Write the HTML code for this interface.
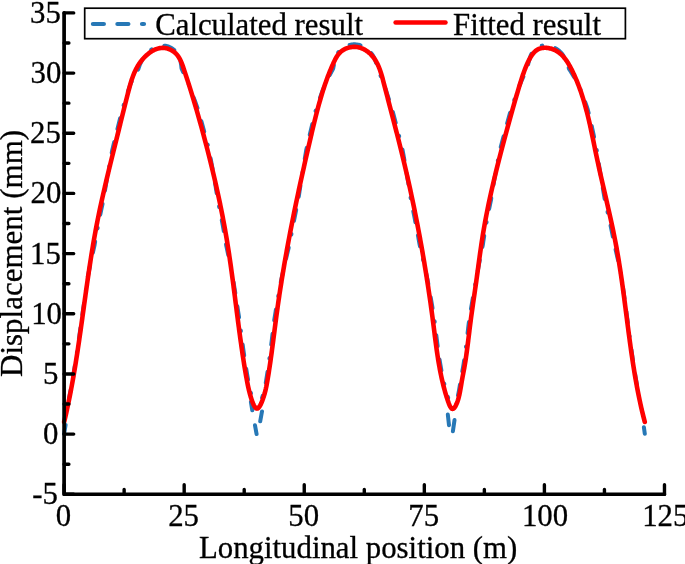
<!DOCTYPE html>
<html><head><meta charset="utf-8"><style>
html,body{margin:0;padding:0;background:#fff;}
svg{display:block;will-change:transform;}
text{font-family:"Liberation Serif",serif;font-size:30.8px;fill:#000;stroke:#000;stroke-width:0.3px;}
</style></head><body>
<svg width="685" height="564" viewBox="0 0 685 564">
<rect width="685" height="564" fill="#fff"/>
<path d="M69.10,397.70 L69.25,396.94 L69.40,396.19 L69.55,395.43 L69.70,394.67 L69.85,393.91 L70.00,393.16 L70.15,392.40 L70.29,391.64 L70.44,390.88 L70.58,390.12 L70.73,389.36 L70.87,388.60 L71.01,387.84 L71.15,387.09 L71.29,386.33 L71.43,385.57 L71.57,384.81 L71.71,384.05 L71.84,383.29 L71.98,382.52 L72.11,381.76 L72.25,381.00 L72.38,380.24 L72.52,379.48 L72.65,378.72 L72.79,377.96 L72.92,377.20 L73.05,376.44 L73.18,375.67 L73.31,374.91 L73.44,374.15 L73.57,373.39 L73.70,372.63 L73.83,371.86 L73.95,371.10 L74.08,370.34 L74.21,369.58 L74.33,368.81 L74.46,368.05 L74.58,367.29 L74.71,366.52 L74.83,365.76 L74.95,365.00 L75.08,364.23 L75.20,363.47 L75.32,362.71 L75.44,361.94 L75.56,361.18 L75.68,360.41 L75.80,359.65 L75.92,358.88 L76.04,358.12 L76.16,357.36 L76.28,356.59 L76.40,355.83 L76.51,355.06 L76.63,354.30 L76.75,353.53 L76.86,352.77 L76.98,352.00 L77.09,351.24 L77.21,350.47 L77.32,349.70 L77.44,348.94 L77.55,348.17 L77.67,347.41 L77.78,346.64 L77.89,345.88 L78.00,345.11 L78.12,344.34 L78.23,343.58 L78.34,342.81 L78.45,342.04 L78.56,341.28 L78.67,340.51 L78.78,339.75 L78.89,338.98 L79.00,338.21 L79.11,337.45 L79.22,336.68 L79.33,335.91 L79.44,335.14 L79.55,334.38 L79.66,333.61 L79.77,332.84 L79.87,332.08 L79.98,331.31 L80.09,330.54 L80.20,329.77 L80.30,329.01 L80.41,328.24 L80.52,327.47 L80.62,326.71 L80.73,325.94 L80.84,325.17 L80.94,324.40 L81.05,323.63 L81.16,322.87 L81.26,322.10 L81.37,321.33 L81.47,320.56 L81.58,319.80 L81.69,319.03 L81.81,318.26 L81.92,317.50 L82.03,316.73 L82.14,315.96 L82.26,315.20 L82.37,314.43 L82.48,313.66 L82.59,312.89 L82.71,312.13 L82.82,311.36 L82.93,310.59 L83.04,309.83 L83.16,309.06 L83.27,308.29 L83.38,307.53 L83.49,306.76 L83.60,305.99 L83.72,305.22 L83.83,304.46 L83.94,303.69 L84.05,302.92 L84.17,302.16 L84.28,301.39 L84.39,300.62 L84.50,299.86 L84.62,299.09 L84.73,298.32 L84.84,297.56 L84.96,296.79 L85.07,296.02 L85.18,295.25 L85.30,294.49 L85.41,293.72 L85.52,292.95 L85.64,292.19 L85.75,291.42 L85.87,290.65 L85.98,289.89 L86.09,289.12 L86.21,288.35 L86.32,287.59 L86.44,286.82 L86.55,286.05 L86.67,285.29 L86.78,284.52 L86.90,283.76 L87.02,282.99 L87.13,282.22 L87.25,281.46 L87.36,280.69 L87.14,279.87 L87.29,279.11 L87.45,278.35 L87.60,277.59 L87.76,276.83 L87.91,276.07 L88.07,275.31 L88.22,274.55 L88.38,273.79 L88.54,273.03 L88.69,272.27 L88.85,271.51 L89.01,270.75 L89.16,269.99 L89.32,269.23 L89.48,268.47 L89.64,267.71 L89.80,266.95 L89.96,266.19 L90.12,265.44 L90.28,264.68 L90.44,263.92 L90.60,263.16 L90.76,262.40 L90.92,261.64 L91.08,260.89 L91.25,260.13 L91.41,259.37 L91.57,258.61 L91.74,257.85 L91.90,257.10 L92.07,256.34 L92.23,255.58 L92.40,254.83 L92.56,254.07 L92.73,253.31 L92.90,252.56 L93.06,251.80 L93.23,251.04 L93.40,250.29 L93.57,249.53 L93.74,248.78 L93.91,248.02 L94.08,247.27 L94.25,246.51 L94.42,245.76 L94.58,245.00 L94.71,244.24 L94.84,243.48 L94.97,242.71 L95.10,241.95 L95.23,241.19 L95.36,240.43 L95.50,239.67 L95.63,238.91 L95.77,238.15 L95.90,237.39 L96.04,236.63 L96.17,235.87 L96.31,235.11 L96.45,234.35 L96.58,233.59 L96.72,232.83 L96.86,232.07 L97.00,231.31 L97.14,230.55 L97.28,229.79 L97.43,229.03 L97.57,228.28 L97.71,227.52 L97.86,226.76 L98.00,226.00 L98.15,225.24 L98.30,224.49 L98.44,223.73 L98.59,222.97 L98.74,222.21 L98.89,221.46 L99.04,220.70 L99.19,219.94 L99.34,219.19 L99.49,218.43 L99.65,217.67 L99.80,216.92 L99.95,216.16 L100.11,215.41 L100.26,214.65 L100.42,213.89 L100.58,213.14 L100.74,212.38 L100.89,211.63 L101.05,210.87 L101.21,210.12 L101.37,209.36 L101.53,208.61 L101.69,207.85 L101.86,207.10 L102.02,206.34 L102.18,205.59 L102.35,204.83 L102.51,204.08 L102.68,203.33 L102.84,202.57 L103.01,201.82 L103.17,201.06 L103.34,200.31 L103.46,199.54 L103.59,198.78 L103.71,198.02 L103.84,197.25 L103.96,196.49 L104.09,195.73 L104.21,194.96 L104.34,194.20 L104.47,193.44 L104.60,192.67 L104.72,191.91 L104.85,191.14 L104.98,190.38 L105.11,189.62 L105.24,188.85 L105.37,188.09 L105.50,187.33 L105.64,186.56 L105.77,185.80 L105.90,185.04 L106.03,184.27 L106.17,183.51 L106.30,182.75 L106.43,181.98 L106.57,181.22 L106.70,180.45 L106.84,179.69 L106.97,178.93 L107.11,178.16 L107.24,177.40 L107.38,176.64 L107.52,175.87 L107.65,175.11 L107.79,174.34 L107.93,173.58 L108.07,172.82 L108.20,172.05 L108.34,171.29 L108.48,170.53 L108.62,169.76 L108.76,169.00 L108.90,168.23 L109.04,167.47 L109.18,166.71 L109.32,165.94 L109.46,165.18 L109.60,164.41 L109.74,163.65 L109.88,162.89 L110.02,162.12 L110.16,161.36 L110.30,160.59 L110.45,159.83 L110.59,159.06 L110.73,158.30 L110.87,157.53 L111.01,156.77 L111.15,156.01 L111.30,155.24 L111.44,154.48 L111.58,153.71 L111.72,152.95 L111.87,152.18 L112.01,151.42 L112.15,150.65 L112.30,149.89 L112.47,149.13 L112.66,148.38 L112.84,147.62 L113.03,146.87 L113.22,146.11 L113.40,145.36 L113.59,144.60 L113.78,143.85 L113.96,143.10 L114.15,142.34 L114.34,141.59 L114.53,140.83 L114.71,140.08 L114.90,139.32 L115.09,138.57 L115.27,137.81 L115.46,137.06 L115.65,136.30 L115.83,135.55 L116.02,134.79 L116.21,134.04 L116.39,133.28 L116.58,132.52 L116.77,131.77 L116.95,131.01 L117.14,130.26 L117.33,129.50 L117.51,128.74 L117.70,127.99 L117.89,127.23 L118.07,126.48 L118.26,125.72 L118.44,124.96 L118.63,124.21 L118.82,123.45 L119.00,122.70 L119.19,121.94 L119.38,121.19 L119.56,120.43 L119.75,119.67 L119.94,118.92 L120.12,118.16 L120.31,117.41 L120.50,116.65 L120.68,115.90 L120.87,115.14 L121.06,114.39 L121.24,113.64 L121.43,112.88 L121.62,112.13 L121.81,111.38 L121.99,110.62 L122.18,109.87 L122.40,109.12 L122.63,108.38 L122.86,107.64 L123.09,106.90 L123.33,106.16 L123.56,105.42 L123.79,104.68 L124.02,103.94 L124.26,103.20 L124.49,102.46 L124.72,101.73 L124.95,100.99 L125.19,100.25 L125.42,99.51 L125.65,98.78 L125.89,98.04 L126.12,97.31 L126.36,96.57 L126.59,95.84 L126.82,95.10 L127.06,94.37 L127.29,93.64 L127.53,92.90 L127.76,92.17 L128.00,91.44 L128.23,90.71 L128.47,89.98 L128.71,89.25 L128.95,88.52 L129.19,87.80 L129.43,87.07 L129.67,86.35 L129.92,85.62 L130.17,84.90 L130.46,84.20 L130.76,83.49 L131.06,82.79 L131.36,82.09 L131.66,81.39 L131.97,80.70 L132.28,80.00 L132.60,79.32 L132.92,78.63 L133.25,77.95 L133.58,77.28 L133.91,76.61 L134.25,75.94 L134.60,75.28 L134.95,74.62 L135.31,73.96 L135.68,73.31 L136.05,72.67 L136.43,72.03 L136.81,71.40 L137.20,70.77 L137.60,70.15 L138.01,69.53 L138.41,68.92 L138.63,68.20 L138.86,67.48 L139.11,66.77 L139.37,66.05 L139.64,65.34 L139.92,64.63 L140.22,63.91 L140.54,63.20 L140.87,62.49 L141.22,61.79 L141.58,61.08 L141.96,60.37 L142.36,59.67 L142.77,58.97 L143.20,58.27 L143.65,57.58 L144.12,56.89 L144.60,56.21 L145.10,55.54 L145.62,54.88 L146.16,54.23 L146.73,53.60 L147.31,52.99 L147.91,52.40 L148.52,51.82 L149.15,51.25 L149.80,50.71 L150.46,50.18 L151.14,49.67 L151.83,49.19 L152.54,48.72 L153.26,48.29 L153.99,47.88 L154.74,47.49 L155.51,47.14 L156.29,46.81 L157.08,46.52 L157.89,46.27 L158.70,46.05 L159.53,45.87 L160.37,45.73 L161.22,45.63 L162.07,45.57 L162.93,45.56 L163.79,45.59 L164.65,45.67 L165.51,45.80 L166.36,45.98 L167.21,46.19 L168.03,46.45 L168.85,46.75 L169.65,47.09 L170.43,47.46 L171.19,47.87 L171.93,48.31 L172.65,48.78 L173.35,49.28 L174.02,49.81 L174.66,50.37 L175.27,50.95 L175.85,51.56 L176.40,52.18 L176.91,52.83 L177.39,53.49 L177.84,54.17 L178.23,54.87 L178.59,55.59 L178.92,56.32 L179.22,57.05 L179.50,57.79 L179.75,58.54 L179.98,59.30 L180.18,60.06 L180.37,60.83 L180.54,61.60 L180.70,62.38 L180.84,63.16 L180.97,63.95 L181.09,64.74 L181.20,65.53 L181.30,66.33 L181.40,67.13 L181.49,67.94 L181.61,68.73 L181.95,69.46 L182.28,70.18 L182.62,70.91 L182.96,71.64 L183.29,72.37 L183.62,73.09 L183.96,73.82 L184.29,74.55 L184.62,75.27 L184.95,76.00 L185.28,76.72 L185.61,77.45 L185.94,78.17 L186.27,78.89 L186.59,79.62 L186.92,80.34 L187.25,81.06 L187.57,81.79 L187.89,82.51 L188.22,83.23 L188.54,83.96 L188.86,84.68 L189.16,85.41 L189.44,86.14 L189.72,86.88 L190.00,87.61 L190.27,88.34 L190.55,89.08 L190.82,89.81 L191.10,90.54 L191.37,91.28 L191.65,92.01 L191.92,92.74 L192.19,93.47 L192.46,94.20 L192.73,94.94 L193.00,95.67 L193.27,96.40 L193.54,97.13 L193.81,97.86 L194.08,98.59 L194.34,99.32 L194.61,100.05 L194.88,100.78 L195.14,101.51 L195.41,102.24 L195.67,102.97 L195.93,103.70 L196.20,104.43 L196.46,105.16 L196.72,105.89 L196.98,106.62 L197.24,107.35 L197.50,108.08 L197.76,108.81 L198.02,109.54 L198.24,110.28 L198.45,111.02 L198.66,111.76 L198.88,112.50 L199.09,113.24 L199.30,113.98 L199.52,114.73 L199.73,115.47 L199.94,116.21 L200.15,116.95 L200.36,117.69 L200.57,118.43 L200.78,119.17 L200.98,119.91 L201.19,120.65 L201.40,121.39 L201.61,122.13 L201.81,122.88 L202.02,123.62 L202.22,124.36 L202.43,125.10 L202.63,125.84 L202.84,126.58 L203.04,127.32 L203.24,128.06 L203.45,128.80 L203.65,129.55 L203.85,130.29 L204.05,131.03 L204.25,131.77 L204.45,132.51 L204.65,133.26 L204.85,134.00 L205.05,134.74 L205.25,135.48 L205.45,136.23 L205.64,136.97 L205.84,137.71 L206.04,138.45 L206.24,139.20 L206.43,139.94 L206.63,140.69 L206.82,141.43 L207.02,142.17 L207.21,142.92 L207.41,143.66 L207.60,144.41 L207.79,145.15 L207.99,145.90 L208.18,146.65 L208.37,147.39 L208.57,148.14 L208.76,148.88 L208.95,149.63 L209.10,150.39 L209.25,151.15 L209.39,151.91 L209.54,152.67 L209.69,153.43 L209.83,154.19 L209.98,154.95 L210.12,155.71 L210.27,156.47 L210.41,157.23 L210.56,157.99 L210.70,158.75 L210.84,159.51 L210.99,160.27 L211.13,161.03 L211.27,161.79 L211.41,162.56 L211.55,163.32 L211.69,164.08 L211.83,164.84 L211.97,165.61 L212.11,166.37 L212.25,167.13 L212.39,167.90 L212.53,168.66 L212.67,169.42 L212.80,170.19 L212.94,170.95 L213.08,171.72 L213.21,172.48 L213.35,173.24 L213.48,174.01 L213.62,174.77 L213.75,175.54 L213.88,176.30 L214.02,177.07 L214.15,177.84 L214.28,178.60 L214.41,179.37 L214.54,180.13 L214.67,180.90 L214.80,181.66 L214.93,182.43 L215.06,183.20 L215.19,183.96 L215.32,184.73 L215.44,185.50 L215.57,186.26 L215.70,187.03 L215.82,187.80 L215.95,188.57 L216.07,189.33 L216.20,190.10 L216.32,190.87 L216.44,191.64 L216.56,192.40 L216.69,193.17 L216.81,193.94 L216.93,194.71 L217.05,195.48 L217.17,196.24 L217.29,197.01 L217.41,197.78 L217.52,198.55 L217.64,199.32 L217.76,200.09 L217.90,200.85 L218.06,201.61 L218.22,202.37 L218.38,203.13 L218.54,203.88 L218.70,204.64 L218.86,205.40 L219.01,206.16 L219.17,206.92 L219.32,207.68 L219.48,208.44 L219.63,209.20 L219.79,209.96 L219.94,210.73 L220.09,211.49 L220.24,212.25 L220.40,213.01 L220.55,213.77 L220.70,214.53 L220.84,215.29 L220.99,216.05 L221.14,216.81 L221.29,217.57 L221.44,218.33 L221.58,219.10 L221.73,219.86 L221.87,220.62 L222.02,221.38 L222.16,222.14 L222.30,222.90 L222.44,223.66 L222.58,224.43 L222.73,225.19 L222.87,225.95 L223.00,226.71 L223.14,227.47 L223.28,228.24 L223.42,229.00 L223.55,229.76 L223.69,230.52 L223.83,231.28 L223.96,232.05 L224.09,232.81 L224.23,233.57 L224.36,234.33 L224.49,235.09 L224.62,235.86 L224.75,236.62 L224.88,237.38 L225.01,238.14 L225.14,238.90 L225.26,239.67 L225.39,240.43 L225.52,241.19 L225.64,241.95 L225.77,242.72 L225.89,243.48 L226.01,244.24 L226.14,245.00 L226.29,245.76 L226.45,246.52 L226.62,247.27 L226.78,248.03 L226.94,248.78 L227.10,249.54 L227.26,250.30 L227.42,251.05 L227.59,251.81 L227.74,252.57 L227.90,253.32 L228.06,254.08 L228.22,254.84 L228.38,255.59 L228.54,256.35 L228.69,257.11 L228.85,257.87 L229.00,258.62 L229.16,259.38 L229.31,260.14 L229.47,260.90 L229.62,261.65 L229.78,262.41 L229.93,263.17 L230.08,263.93 L230.23,264.69 L230.38,265.44 L230.54,266.20 L230.69,266.96 L230.84,267.72 L230.99,268.48 L231.14,269.24 L231.29,270.00 L231.43,270.75 L231.58,271.51 L231.73,272.27 L231.88,273.03 L232.03,273.79 L232.17,274.55 L232.32,275.31 L232.47,276.07 L232.61,276.83 L232.76,277.59 L232.91,278.35 L233.05,279.11 L233.20,279.87 L233.32,280.63 L233.44,281.39 L233.57,282.16 L233.69,282.92 L233.81,283.68 L233.93,284.45 L234.05,285.21 L234.17,285.97 L234.29,286.74 L234.41,287.50 L234.54,288.26 L234.66,289.03 L234.78,289.79 L234.90,290.56 L235.02,291.32 L235.14,292.08 L235.26,292.85 L235.37,293.61 L235.49,294.38 L235.61,295.14 L235.73,295.91 L235.85,296.67 L235.97,297.43 L236.09,298.20 L236.21,298.96 L236.33,299.73 L236.45,300.49 L236.57,301.26 L236.68,302.02 L236.80,302.79 L236.92,303.55 L237.04,304.32 L237.16,305.08 L237.28,305.85 L237.40,306.61 L237.52,307.38 L237.64,308.14 L237.75,308.91 L237.87,309.68 L237.99,310.44 L238.11,311.21 L238.23,311.97 L238.35,312.74 L238.47,313.51 L238.59,314.27 L238.71,315.04 L238.83,315.80 L238.95,316.57 L239.07,317.34 L239.19,318.10 L239.31,318.87 L239.43,319.64 L239.53,320.41 L239.63,321.18 L239.72,321.95 L239.82,322.72 L239.91,323.49 L240.01,324.26 L240.11,325.03 L240.20,325.80 L240.30,326.57 L240.40,327.34 L240.50,328.11 L240.59,328.88 L240.69,329.65 L240.79,330.42 L240.89,331.19 L240.99,331.97 L241.09,332.74 L241.19,333.51 L241.29,334.28 L241.39,335.05 L241.49,335.82 L241.59,336.60 L241.69,337.37 L241.79,338.14 L241.89,338.91 L242.00,339.68 L242.10,340.46 L242.20,341.23 L242.31,342.00 L242.41,342.77 L242.52,343.55 L242.62,344.32 L242.73,345.09 L242.83,345.87 L242.94,346.64 L243.04,347.41 L243.15,348.19 L243.26,348.96 L243.37,349.73 L243.48,350.51 L243.59,351.28 L243.69,352.05 L243.80,352.82 L243.92,353.60 L244.03,354.37 L244.14,355.14 L244.25,355.91 L244.36,356.68 L244.48,357.45 L244.59,358.22 L244.70,358.98 L244.82,359.75 L244.93,360.51 L245.05,361.28 L245.16,362.04 L245.28,362.81 L245.40,363.57 L245.51,364.33 L245.63,365.09 L245.75,365.84 L245.87,366.60 L245.99,367.35 L246.11,368.11 L246.23,368.86 L246.35,369.61 L246.47,370.36 L246.59,371.11 L246.72,371.85 L246.84,372.59 L246.96,373.33 L247.09,374.07 L247.21,374.81 L247.34,375.55 L247.46,376.28 L247.59,377.01 L247.72,377.74 L247.85,378.47 L247.97,379.19 L248.10,379.91 L248.23,380.63 L248.36,381.35 L248.50,382.07 L248.63,382.79 L248.77,383.52 L248.91,384.24 L249.06,384.98 L249.21,385.72 L249.36,386.47 L249.53,387.24 L249.69,388.01 L249.87,388.80 L250.05,389.60 L250.25,390.42 L250.45,391.25 L250.66,392.08 L250.88,392.93 L251.11,393.79 L251.35,394.65 L251.60,395.52 L251.86,396.39 L252.12,397.26" fill="none" stroke="#2778b6" stroke-width="4" stroke-linecap="round" stroke-linejoin="round" stroke-dasharray="11 13.5 11 13.5 0.5 13.5" stroke-dashoffset="3.21"/><path d="M262.10,397.69 L262.37,396.89 L262.63,396.09 L262.88,395.29 L263.12,394.50 L263.35,393.71 L263.57,392.93 L263.78,392.15 L263.98,391.37 L264.18,390.60 L264.36,389.83 L264.54,389.06 L264.71,388.30 L264.87,387.53 L265.02,386.77 L265.18,386.01 L265.32,385.25 L265.46,384.49 L265.60,383.73 L265.74,382.97 L265.87,382.21 L266.00,381.46 L266.12,380.70 L266.25,379.94 L266.37,379.18 L266.50,378.42 L266.62,377.66 L266.74,376.90 L266.86,376.14 L266.98,375.38 L267.10,374.61 L267.22,373.85 L267.34,373.09 L267.45,372.33 L267.57,371.57 L267.68,370.80 L267.80,370.04 L267.91,369.28 L268.02,368.51 L268.14,367.75 L268.25,366.99 L268.36,366.22 L268.47,365.46 L268.57,364.69 L268.68,363.93 L268.79,363.16 L268.90,362.40 L269.00,361.63 L269.11,360.87 L269.21,360.10 L269.32,359.34 L269.42,358.57 L269.52,357.81 L269.62,357.04 L269.73,356.27 L269.83,355.51 L269.93,354.74 L270.03,353.97 L270.13,353.20 L270.23,352.44 L270.33,351.67 L270.43,350.90 L270.53,350.13 L270.62,349.37 L270.72,348.60 L270.82,347.83 L270.92,347.06 L271.01,346.29 L271.11,345.53 L271.20,344.76 L271.30,343.99 L271.40,343.22 L271.49,342.45 L271.59,341.68 L271.68,340.91 L271.78,340.14 L271.87,339.38 L271.97,338.61 L272.06,337.84 L272.16,337.07 L272.25,336.30 L272.34,335.53 L272.44,334.76 L272.53,333.99 L272.63,333.22 L272.72,332.45 L272.81,331.68 L272.91,330.91 L273.00,330.14 L273.10,329.37 L273.19,328.60 L273.29,327.83 L273.38,327.06 L273.48,326.29 L273.57,325.52 L273.67,324.75 L273.76,323.98 L273.86,323.21 L273.95,322.44 L274.05,321.67 L274.14,320.90 L274.24,320.13 L274.35,319.36 L274.47,318.60 L274.60,317.83 L274.72,317.06 L274.84,316.30 L274.97,315.53 L275.09,314.77 L275.22,314.00 L275.34,313.23 L275.47,312.47 L275.59,311.70 L275.72,310.94 L275.85,310.17 L275.97,309.40 L276.10,308.64 L276.23,307.87 L276.36,307.11 L276.49,306.34 L276.62,305.58 L276.75,304.82 L276.88,304.05 L277.01,303.29 L277.14,302.52 L277.27,301.76 L277.40,300.99 L277.53,300.23 L277.67,299.47 L277.80,298.70 L277.94,297.94 L278.07,297.18 L278.20,296.41 L278.34,295.65 L278.48,294.89 L278.61,294.12 L278.75,293.36 L278.88,292.60 L279.02,291.84 L279.16,291.07 L279.30,290.31 L279.44,289.55 L279.58,288.79 L279.72,288.03 L279.86,287.27 L280.00,286.50 L280.14,285.74 L280.28,284.98 L280.42,284.22 L280.56,283.46 L280.70,282.70 L280.85,281.94 L280.99,281.18 L281.13,280.41 L281.29,279.66 L281.45,278.90 L281.62,278.14 L281.79,277.39 L281.96,276.63 L282.12,275.87 L282.29,275.12 L282.46,274.36 L282.63,273.60 L282.80,272.85 L282.97,272.09 L283.14,271.34 L283.31,270.58 L283.48,269.83 L283.66,269.07 L283.83,268.32 L284.00,267.56 L284.17,266.81 L284.35,266.05 L284.52,265.30 L284.70,264.54 L284.87,263.79 L285.04,263.03 L285.22,262.28 L285.40,261.53 L285.57,260.77 L285.75,260.02 L285.92,259.27 L286.10,258.51 L286.28,257.76 L286.46,257.01 L286.64,256.25 L286.81,255.50 L286.99,254.75 L287.17,253.99 L287.35,253.24 L287.53,252.49 L287.71,251.74 L287.89,250.98 L288.07,250.23 L288.25,249.48 L288.44,248.73 L288.62,247.97 L288.80,247.22 L288.98,246.47 L289.17,245.72 L289.33,244.96 L289.47,244.20 L289.61,243.45 L289.76,242.69 L289.90,241.93 L290.04,241.17 L290.18,240.41 L290.33,239.65 L290.47,238.89 L290.61,238.13 L290.76,237.37 L290.90,236.61 L291.05,235.85 L291.19,235.10 L291.34,234.34 L291.48,233.58 L291.63,232.82 L291.78,232.06 L291.92,231.30 L292.07,230.54 L292.22,229.79 L292.36,229.03 L292.51,228.27 L292.66,227.51 L292.81,226.75 L292.96,225.99 L293.11,225.24 L293.26,224.48 L293.41,223.72 L293.56,222.96 L293.71,222.20 L293.86,221.45 L294.01,220.69 L294.16,219.93 L294.31,219.17 L294.47,218.42 L294.62,217.66 L294.77,216.90 L294.92,216.14 L295.08,215.39 L295.23,214.63 L295.39,213.87 L295.54,213.11 L295.69,212.36 L295.85,211.60 L296.00,210.84 L296.16,210.08 L296.31,209.33 L296.47,208.57 L296.63,207.81 L296.78,207.05 L296.94,206.30 L297.10,205.54 L297.25,204.78 L297.41,204.03 L297.57,203.27 L297.73,202.51 L297.89,201.76 L298.05,201.00 L298.20,200.24 L298.32,199.47 L298.43,198.71 L298.55,197.94 L298.66,197.18 L298.78,196.41 L298.89,195.64 L299.01,194.88 L299.13,194.11 L299.24,193.34 L299.36,192.58 L299.48,191.81 L299.60,191.05 L299.71,190.28 L299.83,189.51 L299.95,188.75 L300.07,187.98 L300.19,187.21 L300.31,186.45 L300.43,185.68 L300.55,184.92 L300.67,184.15 L300.79,183.38 L300.91,182.62 L301.03,181.85 L301.15,181.08 L301.27,180.32 L301.39,179.55 L301.52,178.79 L301.64,178.02 L301.76,177.25 L301.88,176.49 L302.00,175.72 L302.13,174.95 L302.25,174.19 L302.37,173.42 L302.50,172.65 L302.62,171.89 L302.75,171.12 L302.87,170.35 L303.00,169.59 L303.12,168.82 L303.25,168.05 L303.37,167.29 L303.50,166.52 L303.62,165.75 L303.75,164.99 L303.87,164.22 L304.00,163.46 L304.13,162.69 L304.25,161.92 L304.38,161.16 L304.51,160.39 L304.63,159.62 L304.76,158.85 L304.89,158.09 L305.02,157.32 L305.15,156.55 L305.27,155.79 L305.40,155.02 L305.53,154.25 L305.66,153.49 L305.79,152.72 L305.92,151.95 L306.05,151.19 L306.18,150.42 L306.31,149.65 L306.48,148.90 L306.66,148.14 L306.83,147.38 L307.01,146.63 L307.18,145.87 L307.36,145.11 L307.53,144.36 L307.71,143.60 L307.88,142.84 L308.06,142.08 L308.24,141.33 L308.41,140.57 L308.59,139.81 L308.77,139.06 L308.94,138.30 L309.12,137.54 L309.30,136.79 L309.47,136.03 L309.65,135.27 L309.83,134.52 L310.01,133.76 L310.18,133.00 L310.36,132.24 L310.54,131.49 L310.72,130.73 L310.90,129.97 L311.08,129.22 L311.26,128.46 L311.44,127.70 L311.62,126.95 L311.80,126.19 L311.98,125.43 L312.16,124.68 L312.35,123.92 L312.53,123.16 L312.71,122.41 L312.90,121.65 L313.08,120.89 L313.27,120.14 L313.46,119.38 L313.64,118.63 L313.83,117.87 L314.02,117.12 L314.21,116.36 L314.40,115.61 L314.59,114.86 L314.78,114.10 L314.98,113.35 L315.17,112.60 L315.36,111.84 L315.56,111.09 L315.76,110.34 L315.96,109.59 L316.20,108.85 L316.44,108.11 L316.69,107.37 L316.93,106.63 L317.18,105.89 L317.43,105.16 L317.67,104.42 L317.92,103.68 L318.17,102.95 L318.43,102.21 L318.68,101.48 L318.94,100.75 L319.19,100.01 L319.45,99.28 L319.71,98.55 L319.97,97.82 L320.23,97.09 L320.49,96.36 L320.76,95.63 L321.02,94.91 L321.29,94.18 L321.56,93.46 L321.83,92.73 L322.10,92.01 L322.37,91.28 L322.64,90.56 L322.92,89.84 L323.20,89.12 L323.48,88.40 L323.76,87.68 L324.04,86.97 L324.33,86.25 L324.61,85.54 L324.91,84.82 L325.24,84.13 L325.57,83.43 L325.90,82.73 L326.24,82.04 L326.57,81.34 L326.91,80.65 L327.25,79.96 L327.59,79.27 L327.94,78.58 L328.28,77.89 L328.63,77.21 L328.98,76.52 L329.33,75.84 L329.68,75.16 L330.03,74.48 L330.39,73.80 L330.75,73.13 L331.11,72.45 L331.47,71.78 L331.83,71.11 L332.20,70.44 L332.57,69.77 L332.94,69.10 L333.20,68.39 L333.34,67.63 L333.50,66.87 L333.65,66.11 L333.81,65.35 L333.98,64.59 L334.14,63.83 L334.31,63.07 L334.49,62.31 L334.66,61.56 L334.85,60.81 L335.04,60.05 L335.24,59.31 L335.46,58.56 L335.69,57.82 L335.94,57.09 L336.21,56.35 L336.50,55.63 L336.81,54.91 L337.16,54.20 L337.55,53.52 L337.97,52.84 L338.42,52.18 L338.91,51.53 L339.43,50.89 L339.99,50.28 L340.59,49.68 L341.22,49.11 L341.89,48.57 L342.58,48.06 L343.31,47.57 L344.05,47.12 L344.83,46.69 L345.62,46.30 L346.43,45.94 L347.26,45.62 L348.10,45.32 L348.95,45.07 L349.82,44.85 L350.69,44.66 L351.58,44.52 L352.46,44.43 L353.35,44.37 L354.24,44.35 L355.12,44.36 L356.00,44.42 L356.87,44.50 L357.73,44.63 L358.57,44.81 L359.41,45.02 L360.22,45.27 L361.03,45.55 L361.82,45.86 L362.59,46.20 L363.34,46.57 L364.08,46.97 L364.80,47.39 L365.50,47.84 L366.18,48.31 L366.84,48.81 L367.48,49.32 L368.11,49.85 L368.71,50.41 L369.29,50.97 L369.86,51.56 L370.40,52.16 L370.93,52.77 L371.43,53.39 L371.91,54.02 L372.36,54.68 L372.79,55.35 L373.19,56.02 L373.57,56.71 L373.93,57.40 L374.26,58.09 L374.58,58.79 L374.89,59.50 L375.17,60.21 L375.43,60.92 L375.68,61.64 L375.92,62.36 L376.13,63.09 L376.34,63.82 L376.53,64.56 L376.70,65.30 L376.87,66.04 L377.02,66.78 L377.16,67.53 L377.29,68.28 L377.50,69.00 L377.85,69.67 L378.19,70.35 L378.52,71.03 L378.85,71.73 L379.18,72.42 L379.50,73.13 L379.81,73.84 L380.13,74.55 L380.43,75.27 L380.74,76.00 L381.04,76.72 L381.34,77.45 L381.63,78.19 L381.92,78.93 L382.22,79.66 L382.50,80.40 L382.79,81.15 L383.08,81.89 L383.36,82.63 L383.65,83.38 L383.94,84.12 L384.22,84.86 L384.47,85.61 L384.71,86.37 L384.96,87.12 L385.20,87.87 L385.44,88.62 L385.68,89.37 L385.93,90.12 L386.17,90.87 L386.41,91.62 L386.65,92.37 L386.90,93.12 L387.14,93.86 L387.38,94.61 L387.62,95.36 L387.86,96.10 L388.11,96.85 L388.35,97.60 L388.59,98.34 L388.83,99.09 L389.07,99.83 L389.31,100.57 L389.55,101.32 L389.80,102.06 L390.04,102.80 L390.28,103.55 L390.52,104.29 L390.76,105.03 L391.00,105.77 L391.24,106.52 L391.48,107.26 L391.72,108.00 L391.96,108.74 L392.20,109.48 L392.41,110.23 L392.61,110.98 L392.80,111.73 L393.00,112.48 L393.19,113.23 L393.39,113.98 L393.59,114.73 L393.78,115.48 L393.98,116.23 L394.17,116.98 L394.37,117.73 L394.56,118.48 L394.76,119.23 L394.95,119.98 L395.15,120.72 L395.34,121.47 L395.53,122.22 L395.73,122.97 L395.92,123.72 L396.12,124.46 L396.31,125.21 L396.50,125.96 L396.69,126.71 L396.89,127.45 L397.08,128.20 L397.27,128.95 L397.46,129.70 L397.66,130.44 L397.85,131.19 L398.04,131.94 L398.23,132.68 L398.42,133.43 L398.61,134.18 L398.80,134.92 L398.99,135.67 L399.18,136.42 L399.37,137.16 L399.56,137.91 L399.75,138.66 L399.94,139.41 L400.13,140.15 L400.32,140.90 L400.50,141.65 L400.69,142.39 L400.88,143.14 L401.07,143.89 L401.25,144.63 L401.44,145.38 L401.63,146.13 L401.81,146.88 L402.00,147.62 L402.18,148.37 L402.37,149.12 L402.54,149.87 L402.68,150.63 L402.82,151.39 L402.96,152.15 L403.10,152.91 L403.24,153.67 L403.38,154.43 L403.52,155.19 L403.66,155.95 L403.79,156.70 L403.93,157.46 L404.07,158.23 L404.20,158.99 L404.34,159.75 L404.48,160.51 L404.61,161.27 L404.75,162.03 L404.88,162.79 L405.01,163.55 L405.15,164.31 L405.28,165.07 L405.41,165.84 L405.55,166.60 L405.68,167.36 L405.81,168.12 L405.94,168.88 L406.07,169.65 L406.20,170.41 L406.33,171.17 L406.46,171.93 L406.59,172.70 L406.72,173.46 L406.85,174.22 L406.98,174.99 L407.11,175.75 L407.23,176.51 L407.36,177.28 L407.49,178.04 L407.61,178.80 L407.74,179.57 L407.86,180.33 L407.99,181.10 L408.11,181.86 L408.24,182.63 L408.36,183.39 L408.48,184.16 L408.61,184.92 L408.73,185.69 L408.85,186.45 L408.97,187.22 L409.09,187.98 L409.22,188.75 L409.34,189.51 L409.46,190.28 L409.58,191.04 L409.70,191.81 L409.81,192.58 L409.93,193.34 L410.05,194.11 L410.17,194.88 L410.29,195.64 L410.40,196.41 L410.52,197.17 L410.64,197.94 L410.75,198.71 L410.87,199.48 L410.98,200.24 L411.14,201.00 L411.30,201.76 L411.45,202.52 L411.61,203.27 L411.77,204.03 L411.93,204.79 L412.08,205.55 L412.24,206.31 L412.40,207.07 L412.55,207.83 L412.71,208.59 L412.86,209.34 L413.02,210.10 L413.17,210.86 L413.32,211.62 L413.48,212.38 L413.63,213.14 L413.78,213.90 L413.94,214.66 L414.09,215.42 L414.24,216.18 L414.39,216.94 L414.54,217.70 L414.69,218.46 L414.84,219.22 L414.99,219.98 L415.14,220.75 L415.29,221.51 L415.44,222.27 L415.59,223.03 L415.73,223.79 L415.88,224.55 L416.03,225.31 L416.18,226.07 L416.32,226.83 L416.47,227.60 L416.61,228.36 L416.76,229.12 L416.90,229.88 L417.05,230.64 L417.19,231.41 L417.33,232.17 L417.48,232.93 L417.62,233.69 L417.76,234.46 L417.90,235.22 L418.05,235.98 L418.19,236.74 L418.33,237.51 L418.47,238.27 L418.61,239.03 L418.75,239.79 L418.89,240.56 L419.03,241.32 L419.17,242.08 L419.30,242.85 L419.44,243.61 L419.58,244.37 L419.72,245.14 L419.89,245.89 L420.07,246.65 L420.25,247.40 L420.43,248.16 L420.61,248.92 L420.78,249.67 L420.96,250.43 L421.14,251.19 L421.31,251.94 L421.49,252.70 L421.67,253.46 L421.84,254.21 L422.02,254.97 L422.19,255.73 L422.37,256.48 L422.54,257.24 L422.72,258.00 L422.89,258.76 L423.06,259.51 L423.24,260.27 L423.41,261.03 L423.58,261.78 L423.75,262.54 L423.92,263.30 L424.09,264.06 L424.26,264.82 L424.43,265.57 L424.60,266.33 L424.77,267.09 L424.94,267.85 L425.11,268.61 L425.28,269.36 L425.45,270.12 L425.62,270.88 L425.78,271.64 L425.95,272.40 L426.12,273.16 L426.28,273.92 L426.45,274.67 L426.61,275.43 L426.78,276.19 L426.94,276.95 L427.11,277.71 L427.27,278.47 L427.43,279.23 L427.60,279.99 L427.74,280.75 L427.88,281.51 L428.02,282.27 L428.15,283.04 L428.29,283.80 L428.43,284.56 L428.57,285.32 L428.71,286.09 L428.84,286.85 L428.98,287.61 L429.12,288.38 L429.25,289.14 L429.39,289.90 L429.53,290.66 L429.66,291.43 L429.80,292.19 L429.93,292.95 L430.06,293.71 L430.20,294.48 L430.33,295.24 L430.46,296.00 L430.60,296.77 L430.73,297.53 L430.86,298.29 L430.99,299.05 L431.12,299.82 L431.25,300.58 L431.38,301.34 L431.51,302.10 L431.64,302.87 L431.77,303.63 L431.90,304.39 L432.03,305.15 L432.16,305.92 L432.28,306.68 L432.41,307.44 L432.54,308.20 L432.66,308.97 L432.79,309.73 L432.92,310.49 L433.04,311.25 L433.17,312.02 L433.29,312.78 L433.41,313.54 L433.54,314.30 L433.66,315.07 L433.78,315.83 L433.91,316.59 L434.03,317.35 L434.15,318.11 L434.27,318.88 L434.39,319.64 L434.49,320.40 L434.59,321.17 L434.69,321.93 L434.78,322.70 L434.87,323.46 L434.97,324.23 L435.06,324.99 L435.15,325.76 L435.25,326.52 L435.34,327.29 L435.43,328.05 L435.52,328.81 L435.62,329.58 L435.71,330.34 L435.80,331.11 L435.89,331.87 L435.98,332.63 L436.07,333.40 L436.17,334.16 L436.26,334.92 L436.35,335.69 L436.44,336.45 L436.54,337.21 L436.63,337.98 L436.72,338.74 L436.82,339.50 L436.91,340.26 L437.01,341.03 L437.10,341.79 L437.20,342.55 L437.29,343.31 L437.39,344.08 L437.49,344.84 L437.59,345.60 L437.69,346.36 L437.79,347.13 L437.89,347.89 L437.99,348.65 L438.09,349.41 L438.19,350.17 L438.30,350.94 L438.40,351.70 L438.51,352.46 L438.62,353.22 L438.72,353.99 L438.83,354.75 L438.94,355.51 L439.06,356.27 L439.17,357.04 L439.28,357.80 L439.40,358.56 L439.52,359.32 L439.64,360.09 L439.76,360.85 L439.88,361.61 L440.00,362.37 L440.13,363.14 L440.25,363.90 L440.38,364.66 L440.51,365.43 L440.64,366.19 L440.78,366.95 L440.91,367.72 L441.05,368.48 L441.19,369.24 L441.33,370.01 L441.47,370.77 L441.62,371.54 L441.76,372.30 L441.91,373.06 L442.07,373.83 L442.22,374.59 L442.37,375.36 L442.53,376.12 L442.69,376.89 L442.85,377.65 L443.02,378.42 L443.19,379.18 L443.36,379.95 L443.53,380.72 L443.70,381.48 L443.88,382.25 L444.06,383.01 L444.24,383.78 L444.43,384.55 L444.62,385.32 L444.81,386.08 L445.00,386.85 L445.20,387.62 L445.40,388.39 L445.60,389.15 L445.80,389.92 L446.02,390.69 L446.23,391.46 L446.45,392.23 L446.67,393.00 L446.90,393.77 L447.14,394.55 L447.37,395.34 L447.62,396.12 L447.87,396.92 L448.13,397.72" fill="none" stroke="#2778b6" stroke-width="4" stroke-linecap="round" stroke-linejoin="round" stroke-dasharray="11 13.5 11 13.5 0.5 13.5" stroke-dashoffset="9.06"/><path d="M457.45,397.54 L457.68,396.65 L457.90,395.75 L458.11,394.86 L458.30,393.97 L458.48,393.09 L458.66,392.22 L458.82,391.36 L458.98,390.52 L459.13,389.69 L459.27,388.88 L459.40,388.08 L459.53,387.31 L459.65,386.55 L459.77,385.80 L459.89,385.07 L460.01,384.34 L460.13,383.62 L460.24,382.91 L460.36,382.19 L460.48,381.48 L460.60,380.77 L460.72,380.05 L460.84,379.33 L460.97,378.60 L461.10,377.87 L461.23,377.13 L461.37,376.39 L461.51,375.64 L461.64,374.89 L461.78,374.14 L461.92,373.38 L462.06,372.62 L462.21,371.86 L462.35,371.10 L462.48,370.34 L462.62,369.57 L462.76,368.81 L462.90,368.04 L463.03,367.28 L463.16,366.51 L463.29,365.75 L463.42,364.98 L463.54,364.21 L463.66,363.45 L463.79,362.68 L463.91,361.92 L464.02,361.15 L464.14,360.38 L464.25,359.62 L464.37,358.85 L464.48,358.08 L464.59,357.31 L464.70,356.55 L464.81,355.78 L464.91,355.01 L465.02,354.24 L465.12,353.48 L465.22,352.71 L465.32,351.94 L465.42,351.17 L465.52,350.40 L465.62,349.63 L465.72,348.87 L465.81,348.10 L465.91,347.33 L466.00,346.56 L466.10,345.79 L466.19,345.02 L466.28,344.25 L466.38,343.48 L466.47,342.71 L466.56,341.94 L466.65,341.17 L466.74,340.40 L466.83,339.64 L466.92,338.87 L467.01,338.10 L467.10,337.33 L467.19,336.56 L467.27,335.79 L467.36,335.02 L467.45,334.25 L467.54,333.48 L467.63,332.71 L467.72,331.94 L467.81,331.17 L467.90,330.40 L467.99,329.63 L468.08,328.86 L468.17,328.09 L468.26,327.32 L468.35,326.55 L468.44,325.78 L468.53,325.01 L468.63,324.24 L468.72,323.47 L468.82,322.71 L468.91,321.94 L469.01,321.17 L469.10,320.40 L469.21,319.63 L469.33,318.87 L469.45,318.10 L469.58,317.34 L469.70,316.57 L469.83,315.81 L469.95,315.05 L470.08,314.28 L470.21,313.52 L470.33,312.75 L470.46,311.99 L470.59,311.23 L470.72,310.46 L470.85,309.70 L470.98,308.94 L471.10,308.18 L471.23,307.41 L471.36,306.65 L471.49,305.89 L471.63,305.13 L471.76,304.36 L471.89,303.60 L472.02,302.84 L472.15,302.08 L472.28,301.32 L472.41,300.55 L472.54,299.79 L472.68,299.03 L472.81,298.27 L472.94,297.51 L473.07,296.74 L473.20,295.98 L473.34,295.22 L473.47,294.46 L473.60,293.69 L473.73,292.93 L473.86,292.17 L474.00,291.41 L474.13,290.65 L474.26,289.88 L474.39,289.12 L474.52,288.36 L474.65,287.60 L474.78,286.83 L474.92,286.07 L475.05,285.31 L475.18,284.54 L475.31,283.78 L475.44,283.02 L475.57,282.25 L475.69,281.49 L475.82,280.73 L475.95,279.96 L476.10,279.20 L476.25,278.44 L476.40,277.68 L476.55,276.91 L476.70,276.15 L476.85,275.39 L477.00,274.63 L477.14,273.87 L477.29,273.10 L477.44,272.34 L477.59,271.58 L477.74,270.81 L477.88,270.05 L478.03,269.29 L478.18,268.53 L478.33,267.76 L478.47,267.00 L478.62,266.24 L478.77,265.47 L478.92,264.71 L479.06,263.95 L479.21,263.18 L479.36,262.42 L479.51,261.66 L479.66,260.89 L479.80,260.13 L479.95,259.37 L480.10,258.60 L480.25,257.84 L480.40,257.08 L480.55,256.31 L480.70,255.55 L480.85,254.79 L481.00,254.03 L481.15,253.26 L481.30,252.50 L481.45,251.74 L481.61,250.98 L481.76,250.22 L481.91,249.46 L482.07,248.69 L482.22,247.93 L482.37,247.17 L482.53,246.41 L482.69,245.65 L482.82,244.89 L482.94,244.12 L483.05,243.36 L483.17,242.59 L483.28,241.83 L483.40,241.06 L483.52,240.30 L483.64,239.53 L483.76,238.77 L483.88,238.01 L484.00,237.24 L484.12,236.48 L484.24,235.71 L484.36,234.95 L484.49,234.19 L484.61,233.43 L484.74,232.66 L484.87,231.90 L485.00,231.14 L485.13,230.38 L485.26,229.62 L485.39,228.86 L485.52,228.10 L485.65,227.34 L485.79,226.58 L485.92,225.82 L486.06,225.06 L486.19,224.30 L486.33,223.54 L486.47,222.78 L486.61,222.02 L486.75,221.26 L486.89,220.50 L487.03,219.74 L487.17,218.98 L487.31,218.23 L487.46,217.47 L487.60,216.71 L487.75,215.95 L487.89,215.20 L488.04,214.44 L488.19,213.68 L488.34,212.93 L488.49,212.17 L488.64,211.41 L488.79,210.66 L488.94,209.90 L489.09,209.14 L489.25,208.39 L489.40,207.63 L489.56,206.88 L489.71,206.12 L489.87,205.37 L490.02,204.61 L490.18,203.86 L490.34,203.10 L490.50,202.35 L490.66,201.59 L490.82,200.84 L490.97,200.08 L491.09,199.32 L491.20,198.56 L491.32,197.79 L491.44,197.03 L491.56,196.27 L491.69,195.50 L491.81,194.74 L491.93,193.98 L492.05,193.21 L492.18,192.45 L492.30,191.69 L492.43,190.93 L492.55,190.16 L492.68,189.40 L492.81,188.64 L492.94,187.88 L493.06,187.11 L493.19,186.35 L493.32,185.59 L493.45,184.83 L493.59,184.06 L493.72,183.30 L493.85,182.54 L493.98,181.78 L494.12,181.01 L494.25,180.25 L494.38,179.49 L494.52,178.73 L494.66,177.96 L494.79,177.20 L494.93,176.44 L495.07,175.68 L495.20,174.92 L495.34,174.15 L495.48,173.39 L495.62,172.63 L495.76,171.87 L495.90,171.11 L496.04,170.34 L496.19,169.58 L496.33,168.82 L496.47,168.06 L496.61,167.30 L496.76,166.53 L496.90,165.77 L497.05,165.01 L497.19,164.25 L497.34,163.49 L497.48,162.72 L497.63,161.96 L497.78,161.20 L497.92,160.44 L498.07,159.68 L498.22,158.92 L498.37,158.15 L498.52,157.39 L498.67,156.63 L498.82,155.87 L498.97,155.11 L499.12,154.34 L499.27,153.58 L499.42,152.82 L499.57,152.06 L499.73,151.30 L499.88,150.53 L500.03,149.77 L500.22,149.02 L500.42,148.27 L500.62,147.52 L500.81,146.77 L501.01,146.02 L501.21,145.27 L501.41,144.52 L501.61,143.77 L501.81,143.02 L502.01,142.27 L502.21,141.51 L502.41,140.76 L502.61,140.01 L502.81,139.26 L503.01,138.51 L503.21,137.76 L503.42,137.01 L503.62,136.26 L503.82,135.51 L504.02,134.76 L504.23,134.01 L504.43,133.26 L504.63,132.51 L504.84,131.76 L505.04,131.01 L505.24,130.26 L505.45,129.50 L505.65,128.75 L505.86,128.00 L506.06,127.25 L506.27,126.50 L506.47,125.75 L506.68,125.00 L506.88,124.25 L507.09,123.50 L507.30,122.75 L507.50,121.99 L507.71,121.24 L507.92,120.49 L508.12,119.74 L508.33,118.99 L508.54,118.24 L508.75,117.49 L508.95,116.74 L509.16,115.99 L509.37,115.24 L509.58,114.48 L509.79,113.73 L510.00,112.98 L510.21,112.23 L510.42,111.48 L510.63,110.74 L510.84,109.99 L511.07,109.24 L511.32,108.51 L511.58,107.77 L511.83,107.03 L512.09,106.30 L512.34,105.56 L512.60,104.83 L512.85,104.10 L513.11,103.36 L513.36,102.63 L513.62,101.90 L513.88,101.16 L514.14,100.43 L514.39,99.70 L514.65,98.97 L514.91,98.24 L515.17,97.51 L515.43,96.78 L515.69,96.05 L515.95,95.33 L516.21,94.60 L516.47,93.87 L516.73,93.15 L516.99,92.42 L517.25,91.70 L517.51,90.97 L517.77,90.25 L518.04,89.53 L518.30,88.81 L518.56,88.09 L518.83,87.37 L519.09,86.65 L519.35,85.93 L519.62,85.22 L519.91,84.51 L520.22,83.81 L520.52,83.10 L520.83,82.40 L521.14,81.70 L521.44,81.01 L521.75,80.31 L522.06,79.61 L522.37,78.92 L522.68,78.22 L522.99,77.53 L523.31,76.84 L523.63,76.15 L523.95,75.46 L524.27,74.77 L524.60,74.08 L524.93,73.40 L525.26,72.71 L525.60,72.03 L525.94,71.34 L526.29,70.66 L526.64,69.98 L527.00,69.30 L527.32,68.60 L527.45,67.83 L527.59,67.05 L527.74,66.27 L527.90,65.48 L528.06,64.69 L528.24,63.90 L528.42,63.11 L528.61,62.31 L528.81,61.50 L529.02,60.70 L529.24,59.89 L529.47,59.08 L529.72,58.27 L529.98,57.46 L530.27,56.66 L530.57,55.87 L530.89,55.08 L531.24,54.31 L531.64,53.56 L532.06,52.83 L532.51,52.11 L532.99,51.41 L533.50,50.73 L534.05,50.08 L534.63,49.46 L535.25,48.86 L535.91,48.31 L536.61,47.79 L537.36,47.31 L538.14,46.89 L538.96,46.52 L539.80,46.20 L540.67,45.95 L541.55,45.75 L542.44,45.59 L543.34,45.49 L544.24,45.44 L545.15,45.43 L546.05,45.47 L546.95,45.54 L547.84,45.65 L548.73,45.80 L549.60,45.99 L550.45,46.20 L551.29,46.45 L552.11,46.73 L552.92,47.03 L553.69,47.36 L554.45,47.72 L555.19,48.10 L555.90,48.50 L556.60,48.93 L557.27,49.37 L557.92,49.84 L558.55,50.33 L559.16,50.83 L559.74,51.36 L560.31,51.89 L560.86,52.45 L561.39,53.02 L561.90,53.60 L562.39,54.20 L562.85,54.82 L563.29,55.45 L563.71,56.10 L564.11,56.75 L564.50,57.42 L564.87,58.09 L565.23,58.77 L565.58,59.46 L565.91,60.16 L566.23,60.86 L566.53,61.57 L566.82,62.29 L567.11,63.01 L567.38,63.74 L567.64,64.47 L567.89,65.20 L568.14,65.94 L568.37,66.69 L568.60,67.43 L568.83,68.18 L569.04,68.93 L569.47,69.58 L569.89,70.23 L570.31,70.88 L570.73,71.53 L571.14,72.19 L571.55,72.85 L571.95,73.51 L572.36,74.18 L572.76,74.84 L573.16,75.51 L573.55,76.18 L573.94,76.85 L574.33,77.52 L574.72,78.20 L575.10,78.87 L575.48,79.55 L575.85,80.23 L576.23,80.91 L576.60,81.59 L576.97,82.28 L577.33,82.96 L577.70,83.65 L578.06,84.34 L578.41,85.03 L578.73,85.74 L579.04,86.45 L579.35,87.16 L579.66,87.87 L579.97,88.58 L580.27,89.29 L580.57,90.01 L580.87,90.72 L581.16,91.44 L581.45,92.16 L581.74,92.88 L582.03,93.60 L582.32,94.32 L582.60,95.04 L582.88,95.76 L583.16,96.49 L583.43,97.21 L583.71,97.94 L583.98,98.67 L584.25,99.40 L584.51,100.12 L584.78,100.85 L585.04,101.59 L585.30,102.32 L585.56,103.05 L585.82,103.78 L586.07,104.52 L586.33,105.25 L586.58,105.99 L586.83,106.72 L587.07,107.46 L587.32,108.20 L587.56,108.94 L587.80,109.68 L588.00,110.43 L588.19,111.18 L588.39,111.94 L588.58,112.69 L588.77,113.44 L588.96,114.20 L589.14,114.95 L589.33,115.70 L589.51,116.46 L589.70,117.21 L589.88,117.97 L590.06,118.73 L590.24,119.48 L590.41,120.24 L590.59,121.00 L590.77,121.75 L590.94,122.51 L591.11,123.27 L591.28,124.03 L591.45,124.79 L591.62,125.54 L591.79,126.30 L591.96,127.06 L592.13,127.82 L592.29,128.58 L592.46,129.34 L592.62,130.10 L592.79,130.86 L592.95,131.62 L593.11,132.38 L593.27,133.14 L593.43,133.90 L593.59,134.66 L593.75,135.43 L593.91,136.19 L594.07,136.95 L594.23,137.71 L594.39,138.47 L594.54,139.23 L594.70,139.99 L594.86,140.75 L595.01,141.51 L595.17,142.28 L595.33,143.04 L595.48,143.80 L595.64,144.56 L595.80,145.32 L595.95,146.08 L596.11,146.84 L596.26,147.60 L596.42,148.36 L596.58,149.12 L596.72,149.89 L596.83,150.66 L596.95,151.43 L597.06,152.20 L597.17,152.96 L597.28,153.73 L597.40,154.50 L597.51,155.27 L597.63,156.04 L597.74,156.81 L597.86,157.58 L597.97,158.34 L598.09,159.11 L598.21,159.88 L598.33,160.65 L598.44,161.42 L598.56,162.18 L598.68,162.95 L598.80,163.72 L598.92,164.49 L599.04,165.25 L599.17,166.02 L599.29,166.79 L599.41,167.55 L599.53,168.32 L599.66,169.09 L599.78,169.85 L599.91,170.62 L600.03,171.39 L600.16,172.15 L600.28,172.92 L600.41,173.69 L600.53,174.45 L600.66,175.22 L600.79,175.98 L600.91,176.75 L601.04,177.52 L601.17,178.28 L601.30,179.05 L601.42,179.81 L601.55,180.58 L601.68,181.34 L601.81,182.11 L601.94,182.88 L602.07,183.64 L602.20,184.41 L602.33,185.17 L602.46,185.94 L602.59,186.70 L602.72,187.47 L602.85,188.23 L602.98,189.00 L603.11,189.76 L603.24,190.53 L603.37,191.29 L603.50,192.05 L603.63,192.82 L603.76,193.58 L603.89,194.35 L604.02,195.11 L604.15,195.88 L604.28,196.64 L604.41,197.41 L604.54,198.17 L604.67,198.93 L604.80,199.70 L604.93,200.46 L605.11,201.21 L605.28,201.97 L605.45,202.72 L605.63,203.48 L605.80,204.23 L605.97,204.98 L606.14,205.74 L606.32,206.49 L606.49,207.24 L606.66,208.00 L606.83,208.75 L607.00,209.51 L607.17,210.26 L607.34,211.01 L607.51,211.77 L607.68,212.52 L607.85,213.27 L608.02,214.03 L608.19,214.78 L608.36,215.54 L608.53,216.29 L608.69,217.04 L608.86,217.80 L609.03,218.55 L609.19,219.31 L609.36,220.06 L609.53,220.82 L609.69,221.57 L609.85,222.32 L610.02,223.08 L610.18,223.83 L610.34,224.59 L610.51,225.34 L610.67,226.10 L610.83,226.85 L610.99,227.61 L611.15,228.36 L611.31,229.12 L611.47,229.87 L611.62,230.63 L611.78,231.38 L611.94,232.14 L612.09,232.90 L612.25,233.65 L612.40,234.41 L612.56,235.16 L612.71,235.92 L612.86,236.68 L613.01,237.43 L613.16,238.19 L613.31,238.95 L613.46,239.70 L613.61,240.46 L613.76,241.22 L613.90,241.97 L614.05,242.73 L614.19,243.49 L614.34,244.25 L614.48,245.00 L614.65,245.76 L614.83,246.51 L615.02,247.26 L615.20,248.01 L615.38,248.76 L615.56,249.51 L615.74,250.26 L615.92,251.02 L616.10,251.77 L616.27,252.52 L616.45,253.28 L616.62,254.03 L616.80,254.78 L616.97,255.54 L617.14,256.29 L617.32,257.05 L617.49,257.80 L617.66,258.56 L617.83,259.31 L618.00,260.07 L618.17,260.82 L618.33,261.58 L618.50,262.34 L618.67,263.09 L618.83,263.85 L619.00,264.61 L619.16,265.36 L619.33,266.12 L619.49,266.88 L619.65,267.64 L619.82,268.39 L619.98,269.15 L620.14,269.91 L620.30,270.67 L620.46,271.43 L620.62,272.19 L620.77,272.95 L620.93,273.71 L621.09,274.47 L621.25,275.23 L621.40,275.99 L621.56,276.75 L621.71,277.51 L621.87,278.27 L622.02,279.03 L622.18,279.79 L621.95,280.61 L622.07,281.37 L622.18,282.14 L622.30,282.90 L622.41,283.67 L622.53,284.44 L622.64,285.20 L622.75,285.97 L622.87,286.74 L622.98,287.50 L623.09,288.27 L623.20,289.04 L623.31,289.81 L623.42,290.57 L623.53,291.34 L623.64,292.11 L623.75,292.88 L623.86,293.64 L623.97,294.41 L624.08,295.18 L624.19,295.95 L624.30,296.71 L624.41,297.48 L624.51,298.25 L624.62,299.02 L624.73,299.79 L624.84,300.55 L624.94,301.32 L625.05,302.09 L625.16,302.86 L625.26,303.63 L625.37,304.40 L625.48,305.16 L625.58,305.93 L625.69,306.70 L625.79,307.47 L625.90,308.24 L626.01,309.01 L626.11,309.77 L626.22,310.54 L626.32,311.31 L626.43,312.08 L626.53,312.85 L626.64,313.62 L626.74,314.39 L626.85,315.15 L626.95,315.92 L627.06,316.69 L627.16,317.46 L627.27,318.23 L627.37,319.00 L627.48,319.76 L627.58,320.53 L627.68,321.30 L627.77,322.07 L627.87,322.84 L627.97,323.61 L628.07,324.38 L628.17,325.15 L628.26,325.92 L628.36,326.69 L628.46,327.46 L628.56,328.23 L628.66,329.00 L628.76,329.76 L628.86,330.53 L628.96,331.30 L629.06,332.07 L629.16,332.84 L629.26,333.61 L629.36,334.38 L629.46,335.15 L629.56,335.91 L629.66,336.68 L629.76,337.45 L629.86,338.22 L629.96,338.99 L630.06,339.76 L630.17,340.52 L630.27,341.29 L630.37,342.06 L630.48,342.83 L630.58,343.60 L630.68,344.36 L630.79,345.13 L630.89,345.90 L631.00,346.67 L631.11,347.43 L631.21,348.20 L631.32,348.97 L631.42,349.73 L631.53,350.50 L631.64,351.27 L631.75,352.04 L631.86,352.80 L631.97,353.57 L632.08,354.34 L632.19,355.10 L632.30,355.87 L632.41,356.63 L632.52,357.40 L632.63,358.17 L632.75,358.93 L632.86,359.70 L632.97,360.46 L633.09,361.23 L633.20,361.99 L633.32,362.76 L633.44,363.52 L633.55,364.29 L633.67,365.05 L633.79,365.82 L633.91,366.58 L634.03,367.34 L634.15,368.11 L634.27,368.87 L634.39,369.64 L634.52,370.40 L634.64,371.16 L634.76,371.93 L634.89,372.69 L635.01,373.45 L635.14,374.21 L635.27,374.98 L635.39,375.74 L635.52,376.50 L635.65,377.26 L635.78,378.03 L635.91,378.79 L636.05,379.55 L636.18,380.31 L636.31,381.07 L636.45,381.83 L636.58,382.59 L636.72,383.35 L636.85,384.11 L636.99,384.87 L637.13,385.63 L637.27,386.39 L637.41,387.15 L637.55,387.91 L637.70,388.67 L637.84,389.43 L637.99,390.19 L638.13,390.95 L638.28,391.70 L638.43,392.46 L638.58,393.22 L638.73,393.98 L638.88,394.73 L639.03,395.49 L639.19,396.25 L639.34,397.00 L639.50,397.76" fill="none" stroke="#2778b6" stroke-width="4" stroke-linecap="round" stroke-linejoin="round" stroke-dasharray="11 13.5 11 13.5 0.5 13.5" stroke-dashoffset="60.69"/>
<path d="M64.10,433.80 L65.60,425.00 M250.90,402.00 L252.30,410.30 M255.00,425.30 L256.60,434.10 M260.20,421.30 L262.00,411.40 M447.84,414.60 L449.00,425.20 M452.90,431.20 L454.50,420.10 M643.90,427.20 L644.80,433.80" fill="none" stroke="#2778b6" stroke-width="4" stroke-linecap="round"/>
<path d="M64.15,421.91 L64.33,421.16 L64.51,420.41 L64.69,419.65 L64.86,418.90 L65.04,418.15 L65.22,417.40 L65.39,416.65 L65.56,415.89 L65.74,415.14 L65.91,414.39 L66.08,413.64 L66.25,412.88 L66.42,412.13 L66.58,411.37 L66.75,410.62 L66.92,409.87 L67.08,409.11 L67.25,408.36 L67.41,407.60 L67.57,406.85 L67.73,406.09 L67.89,405.34 L68.05,404.58 L68.21,403.83 L68.37,403.07 L68.53,402.31 L68.68,401.56 L68.84,400.80 L68.99,400.04 L69.15,399.29 L69.30,398.53 L69.45,397.77 L69.61,397.01 L69.76,396.26 L69.91,395.50 L70.06,394.74 L70.20,393.98 L70.35,393.22 L70.50,392.47 L70.65,391.71 L70.79,390.95 L70.94,390.19 L71.08,389.43 L71.22,388.67 L71.37,387.91 L71.51,387.15 L71.65,386.39 L71.79,385.63 L71.93,384.87 L72.07,384.11 L72.21,383.35 L72.35,382.59 L72.48,381.83 L72.62,381.07 L72.76,380.31 L72.89,379.55 L73.03,378.79 L73.16,378.03 L73.29,377.26 L73.43,376.50 L73.56,375.74 L73.69,374.98 L73.82,374.22 L73.95,373.45 L74.08,372.69 L74.21,371.93 L74.34,371.17 L74.47,370.40 L74.60,369.64 L74.72,368.88 L74.85,368.11 L74.98,367.35 L75.10,366.59 L75.23,365.82 L75.35,365.06 L75.48,364.30 L75.60,363.53 L75.72,362.77 L75.85,362.01 L75.97,361.24 L76.09,360.48 L76.21,359.71 L76.33,358.95 L76.45,358.18 L76.57,357.42 L76.69,356.65 L76.81,355.89 L76.93,355.13 L77.05,354.36 L77.16,353.60 L77.28,352.83 L77.40,352.06 L77.52,351.30 L77.63,350.53 L77.75,349.77 L77.86,349.00 L77.98,348.24 L78.09,347.47 L78.21,346.71 L78.32,345.94 L78.44,345.17 L78.55,344.41 L78.66,343.64 L78.78,342.87 L78.89,342.11 L79.00,341.34 L79.11,340.58 L79.23,339.81 L79.34,339.04 L79.45,338.28 L79.56,337.51 L79.67,336.74 L79.78,335.98 L79.89,335.21 L80.00,334.44 L80.11,333.68 L80.22,332.91 L80.33,332.14 L80.44,331.37 L80.55,330.61 L80.66,329.84 L80.76,329.07 L80.87,328.31 L80.98,327.54 L81.09,326.77 L81.20,326.00 L81.30,325.24 L81.41,324.47 L81.52,323.70 L81.63,322.93 L81.73,322.17 L81.84,321.40 L81.95,320.63 L82.05,319.86 L82.16,319.09 L82.27,318.33 L82.37,317.56 L82.48,316.79 L82.59,316.02 L82.69,315.26 L82.80,314.49 L82.91,313.72 L83.01,312.95 L83.12,312.18 L83.22,311.42 L83.33,310.65 L83.44,309.88 L83.54,309.11 L83.65,308.35 L83.75,307.58 L83.86,306.81 L83.97,306.04 L84.07,305.27 L84.18,304.51 L84.28,303.74 L84.39,302.97 L84.50,302.20 L84.60,301.43 L84.71,300.67 L84.82,299.90 L84.92,299.13 L85.03,298.36 L85.14,297.60 L85.24,296.83 L85.35,296.06 L85.46,295.29 L85.56,294.52 L85.67,293.76 L85.78,292.99 L85.89,292.22 L85.99,291.45 L86.10,290.69 L86.21,289.92 L86.32,289.15 L86.43,288.38 L86.53,287.62 L86.64,286.85 L86.75,286.08 L86.86,285.32 L86.97,284.55 L87.08,283.78 L87.19,283.01 L87.30,282.25 L87.41,281.48 L87.52,280.71 L87.63,279.95 L87.74,279.18 L87.85,278.41 L87.96,277.64 L88.07,276.88 L88.19,276.11 L88.30,275.35 L88.41,274.58 L88.52,273.81 L88.64,273.05 L88.75,272.28 L88.86,271.51 L88.98,270.75 L89.09,269.98 L89.21,269.21 L89.32,268.45 L89.44,267.68 L89.55,266.92 L89.67,266.15 L89.79,265.39 L89.90,264.62 L90.02,263.85 L90.14,263.09 L90.26,262.32 L90.38,261.56 L90.49,260.79 L90.61,260.03 L90.73,259.26 L90.85,258.50 L90.97,257.73 L91.10,256.97 L91.22,256.20 L91.34,255.44 L91.46,254.68 L91.58,253.91 L91.71,253.15 L91.83,252.38 L91.96,251.62 L92.08,250.86 L92.21,250.09 L92.33,249.33 L92.46,248.56 L92.59,247.80 L92.71,247.04 L92.84,246.27 L92.97,245.51 L93.10,244.75 L93.23,243.99 L93.36,243.22 L93.49,242.46 L93.62,241.70 L93.75,240.94 L93.89,240.17 L94.02,239.41 L94.15,238.65 L94.29,237.89 L94.42,237.13 L94.56,236.36 L94.70,235.60 L94.83,234.84 L94.97,234.08 L95.11,233.32 L95.25,232.56 L95.39,231.80 L95.53,231.04 L95.67,230.28 L95.81,229.52 L95.95,228.76 L96.10,228.00 L96.24,227.24 L96.38,226.48 L96.53,225.72 L96.68,224.96 L96.82,224.20 L96.97,223.44 L97.12,222.68 L97.27,221.92 L97.42,221.17 L97.57,220.41 L97.72,219.65 L97.87,218.89 L98.02,218.13 L98.18,217.38 L98.33,216.62 L98.48,215.86 L98.64,215.10 L98.80,214.35 L98.95,213.59 L99.11,212.83 L99.27,212.08 L99.43,211.32 L99.59,210.56 L99.75,209.81 L99.91,209.05 L100.07,208.29 L100.23,207.54 L100.39,206.78 L100.55,206.03 L100.72,205.27 L100.88,204.52 L101.05,203.76 L101.21,203.00 L101.38,202.25 L101.54,201.49 L101.71,200.74 L101.88,199.98 L102.04,199.23 L102.21,198.47 L102.38,197.72 L102.55,196.96 L102.72,196.21 L102.89,195.46 L103.06,194.70 L103.23,193.95 L103.40,193.19 L103.58,192.44 L103.75,191.68 L103.92,190.93 L104.10,190.18 L104.27,189.42 L104.44,188.67 L104.62,187.92 L104.79,187.16 L104.97,186.41 L105.15,185.65 L105.32,184.90 L105.50,184.15 L105.68,183.39 L105.85,182.64 L106.03,181.89 L106.21,181.13 L106.39,180.38 L106.57,179.63 L106.75,178.87 L106.93,178.12 L107.11,177.37 L107.29,176.61 L107.47,175.86 L107.65,175.11 L107.83,174.35 L108.01,173.60 L108.19,172.85 L108.37,172.09 L108.56,171.34 L108.74,170.59 L108.92,169.83 L109.10,169.08 L109.29,168.33 L109.47,167.58 L109.65,166.82 L109.84,166.07 L110.02,165.32 L110.21,164.56 L110.39,163.81 L110.58,163.06 L110.76,162.30 L110.95,161.55 L111.13,160.80 L111.32,160.04 L111.50,159.29 L111.69,158.54 L111.87,157.78 L112.06,157.03 L112.25,156.28 L112.43,155.52 L112.62,154.77 L112.80,154.01 L112.99,153.26 L113.18,152.51 L113.36,151.75 L113.55,151.00 L113.74,150.25 L113.92,149.49 L114.11,148.74 L114.30,147.98 L114.49,147.23 L114.67,146.47 L114.86,145.72 L115.05,144.97 L115.23,144.21 L115.42,143.46 L115.61,142.70 L115.79,141.95 L115.98,141.19 L116.17,140.44 L116.36,139.68 L116.54,138.93 L116.73,138.17 L116.92,137.42 L117.10,136.66 L117.29,135.91 L117.48,135.15 L117.66,134.39 L117.85,133.64 L118.04,132.88 L118.22,132.13 L118.41,131.37 L118.60,130.62 L118.78,129.86 L118.97,129.10 L119.16,128.35 L119.34,127.59 L119.53,126.84 L119.71,126.08 L119.90,125.32 L120.09,124.57 L120.27,123.81 L120.46,123.06 L120.65,122.30 L120.83,121.54 L121.02,120.79 L121.21,120.03 L121.39,119.28 L121.58,118.52 L121.76,117.77 L121.95,117.01 L122.14,116.26 L122.33,115.51 L122.51,114.75 L122.70,114.00 L122.89,113.24 L123.07,112.49 L123.26,111.74 L123.45,110.98 L123.64,110.23 L123.82,109.48 L124.01,108.73 L124.20,107.98 L124.39,107.22 L124.58,106.47 L124.76,105.72 L124.95,104.97 L125.14,104.22 L125.33,103.47 L125.52,102.72 L125.71,101.98 L125.90,101.23 L126.09,100.48 L126.28,99.73 L126.47,98.98 L126.66,98.24 L126.85,97.49 L127.04,96.75 L127.23,96.00 L127.42,95.26 L127.61,94.51 L127.80,93.77 L127.99,93.02 L128.19,92.28 L128.38,91.54 L128.57,90.80 L128.76,90.06 L128.96,89.32 L129.15,88.58 L129.35,87.84 L129.55,87.10 L129.75,86.37 L129.96,85.63 L130.16,84.90 L130.37,84.17 L130.58,83.44 L130.80,82.71 L131.02,81.98 L131.24,81.26 L131.47,80.54 L131.70,79.82 L131.94,79.10 L132.18,78.38 L132.43,77.67 L132.69,76.95 L132.95,76.25 L133.22,75.54 L133.49,74.84 L133.77,74.13 L134.06,73.44 L134.35,72.74 L134.66,72.05 L134.97,71.36 L135.29,70.68 L135.62,69.99 L135.96,69.32 L136.30,68.64 L136.66,67.97 L137.03,67.30 L137.40,66.64 L137.79,65.98 L138.19,65.33 L138.60,64.67 L139.02,64.03 L139.45,63.39 L139.90,62.75 L140.35,62.11 L140.82,61.49 L141.30,60.86 L141.80,60.24 L142.30,59.63 L142.82,59.02 L143.36,58.42 L143.91,57.82 L144.47,57.23 L145.04,56.65 L145.62,56.08 L146.22,55.53 L146.82,54.98 L147.44,54.45 L148.07,53.93 L148.70,53.42 L149.35,52.93 L150.00,52.46 L150.67,52.00 L151.34,51.57 L152.02,51.15 L152.70,50.75 L153.40,50.38 L154.10,50.03 L154.81,49.70 L155.52,49.39 L156.24,49.11 L156.96,48.86 L157.69,48.63 L158.43,48.43 L159.16,48.26 L159.91,48.13 L160.65,48.02 L161.40,47.94 L162.15,47.90 L162.90,47.89 L163.66,47.92 L164.41,47.98 L165.17,48.07 L165.92,48.21 L166.68,48.37 L167.42,48.57 L168.17,48.80 L168.90,49.06 L169.63,49.35 L170.34,49.67 L171.04,50.02 L171.73,50.40 L172.40,50.80 L173.06,51.22 L173.69,51.67 L174.31,52.15 L174.91,52.64 L175.48,53.16 L176.02,53.70 L176.54,54.26 L177.04,54.83 L177.52,55.42 L177.97,56.03 L178.41,56.66 L178.83,57.30 L179.22,57.96 L179.60,58.62 L179.97,59.30 L180.32,60.00 L180.66,60.70 L180.98,61.41 L181.29,62.13 L181.59,62.86 L181.88,63.59 L182.17,64.33 L182.44,65.08 L182.71,65.83 L182.98,66.58 L183.24,67.34 L183.49,68.10 L183.75,68.85 L184.00,69.61 L184.25,70.37 L184.50,71.13 L184.76,71.88 L185.01,72.64 L185.25,73.39 L185.50,74.15 L185.75,74.90 L186.00,75.65 L186.24,76.41 L186.49,77.16 L186.73,77.91 L186.98,78.66 L187.22,79.42 L187.46,80.17 L187.70,80.92 L187.94,81.67 L188.18,82.42 L188.42,83.17 L188.66,83.92 L188.90,84.67 L189.14,85.41 L189.37,86.16 L189.61,86.91 L189.84,87.66 L190.08,88.40 L190.31,89.15 L190.54,89.90 L190.78,90.64 L191.01,91.39 L191.24,92.13 L191.47,92.88 L191.70,93.62 L191.93,94.37 L192.15,95.11 L192.38,95.86 L192.61,96.60 L192.83,97.34 L193.06,98.09 L193.28,98.83 L193.51,99.57 L193.73,100.32 L193.95,101.06 L194.18,101.80 L194.40,102.54 L194.62,103.29 L194.84,104.03 L195.06,104.77 L195.28,105.51 L195.50,106.25 L195.71,106.99 L195.93,107.73 L196.15,108.47 L196.36,109.21 L196.58,109.96 L196.79,110.70 L197.01,111.44 L197.22,112.18 L197.44,112.92 L197.65,113.66 L197.86,114.40 L198.07,115.14 L198.28,115.88 L198.49,116.62 L198.70,117.36 L198.91,118.10 L199.12,118.84 L199.33,119.58 L199.54,120.32 L199.75,121.06 L199.95,121.80 L200.16,122.54 L200.37,123.28 L200.57,124.02 L200.78,124.76 L200.98,125.50 L201.19,126.24 L201.39,126.98 L201.59,127.72 L201.80,128.46 L202.00,129.20 L202.20,129.94 L202.40,130.68 L202.60,131.42 L202.80,132.16 L203.00,132.90 L203.20,133.65 L203.40,134.39 L203.60,135.13 L203.80,135.87 L204.00,136.61 L204.19,137.35 L204.39,138.10 L204.59,138.84 L204.79,139.58 L204.98,140.32 L205.18,141.07 L205.37,141.81 L205.57,142.55 L205.76,143.30 L205.96,144.04 L206.15,144.79 L206.34,145.53 L206.54,146.28 L206.73,147.02 L206.92,147.77 L207.11,148.51 L207.31,149.26 L207.50,150.00 L207.69,150.75 L207.88,151.50 L208.07,152.24 L208.26,152.99 L208.45,153.74 L208.64,154.49 L208.83,155.24 L209.02,155.98 L209.20,156.73 L209.39,157.48 L209.58,158.23 L209.77,158.98 L209.95,159.73 L210.14,160.48 L210.33,161.23 L210.51,161.98 L210.70,162.73 L210.88,163.48 L211.07,164.23 L211.25,164.99 L211.43,165.74 L211.62,166.49 L211.80,167.24 L211.98,167.99 L212.16,168.75 L212.34,169.50 L212.53,170.25 L212.71,171.01 L212.89,171.76 L213.07,172.51 L213.24,173.27 L213.42,174.02 L213.60,174.78 L213.78,175.53 L213.96,176.29 L214.13,177.04 L214.31,177.80 L214.49,178.55 L214.66,179.31 L214.84,180.06 L215.01,180.82 L215.19,181.58 L215.36,182.33 L215.53,183.09 L215.71,183.85 L215.88,184.60 L216.05,185.36 L216.22,186.12 L216.39,186.88 L216.56,187.63 L216.73,188.39 L216.90,189.15 L217.07,189.91 L217.24,190.67 L217.40,191.42 L217.57,192.18 L217.74,192.94 L217.90,193.70 L218.07,194.46 L218.23,195.22 L218.40,195.98 L218.56,196.74 L218.72,197.50 L218.89,198.26 L219.05,199.02 L219.21,199.78 L219.37,200.54 L219.53,201.30 L219.69,202.06 L219.85,202.82 L220.01,203.58 L220.17,204.34 L220.33,205.10 L220.48,205.86 L220.64,206.62 L220.79,207.38 L220.95,208.15 L221.10,208.91 L221.26,209.67 L221.41,210.43 L221.56,211.19 L221.72,211.95 L221.87,212.72 L222.02,213.48 L222.17,214.24 L222.32,215.00 L222.47,215.76 L222.61,216.53 L222.76,217.29 L222.91,218.05 L223.05,218.81 L223.20,219.58 L223.34,220.34 L223.49,221.10 L223.63,221.86 L223.78,222.63 L223.92,223.39 L224.06,224.15 L224.20,224.92 L224.34,225.68 L224.48,226.44 L224.62,227.21 L224.76,227.97 L224.89,228.73 L225.03,229.50 L225.17,230.26 L225.30,231.02 L225.44,231.79 L225.57,232.55 L225.70,233.31 L225.84,234.08 L225.97,234.84 L226.10,235.60 L226.23,236.37 L226.36,237.13 L226.49,237.89 L226.62,238.66 L226.74,239.42 L226.87,240.18 L227.00,240.95 L227.12,241.71 L227.25,242.48 L227.37,243.24 L227.49,244.00 L227.62,244.77 L227.74,245.53 L227.86,246.29 L227.98,247.06 L228.10,247.82 L228.22,248.59 L228.34,249.35 L228.46,250.11 L228.58,250.88 L228.69,251.64 L228.81,252.40 L228.93,253.17 L229.04,253.93 L229.16,254.70 L229.27,255.46 L229.38,256.22 L229.50,256.99 L229.61,257.75 L229.72,258.52 L229.84,259.28 L229.95,260.05 L230.06,260.81 L230.17,261.57 L230.28,262.34 L230.39,263.10 L230.50,263.87 L230.61,264.63 L230.72,265.40 L230.82,266.16 L230.93,266.93 L231.04,267.69 L231.14,268.46 L231.25,269.22 L231.36,269.99 L231.46,270.75 L231.57,271.52 L231.67,272.28 L231.78,273.05 L231.88,273.81 L231.99,274.58 L232.09,275.34 L232.19,276.11 L232.30,276.87 L232.40,277.64 L232.50,278.40 L232.60,279.17 L232.71,279.93 L232.81,280.70 L232.91,281.46 L233.01,282.23 L233.11,283.00 L233.21,283.76 L233.31,284.53 L233.41,285.29 L233.51,286.06 L233.61,286.83 L233.71,287.59 L233.81,288.36 L233.91,289.12 L234.01,289.89 L234.11,290.66 L234.21,291.42 L234.31,292.19 L234.41,292.96 L234.50,293.72 L234.60,294.49 L234.70,295.26 L234.80,296.02 L234.90,296.79 L235.00,297.56 L235.09,298.33 L235.19,299.09 L235.29,299.86 L235.39,300.63 L235.49,301.40 L235.58,302.16 L235.68,302.93 L235.78,303.70 L235.88,304.47 L235.98,305.23 L236.07,306.00 L236.17,306.77 L236.27,307.54 L236.37,308.31 L236.47,309.07 L236.56,309.84 L236.66,310.61 L236.76,311.38 L236.86,312.15 L236.96,312.92 L237.06,313.69 L237.15,314.46 L237.25,315.22 L237.35,315.99 L237.45,316.76 L237.55,317.53 L237.65,318.30 L237.75,319.07 L237.85,319.84 L237.95,320.61 L238.05,321.38 L238.15,322.15 L238.25,322.92 L238.35,323.69 L238.45,324.46 L238.55,325.23 L238.65,326.00 L238.75,326.77 L238.86,327.54 L238.96,328.31 L239.06,329.08 L239.16,329.86 L239.27,330.63 L239.37,331.40 L239.47,332.17 L239.58,332.94 L239.68,333.71 L239.78,334.48 L239.89,335.26 L239.99,336.03 L240.10,336.80 L240.21,337.57 L240.31,338.34 L240.42,339.12 L240.53,339.89 L240.63,340.66 L240.74,341.43 L240.85,342.21 L240.96,342.98 L241.07,343.75 L241.18,344.53 L241.29,345.30 L241.40,346.07 L241.51,346.85 L241.62,347.62 L241.73,348.39 L241.84,349.17 L241.95,349.94 L242.07,350.71 L242.18,351.49 L242.29,352.26 L242.41,353.03 L242.52,353.80 L242.64,354.58 L242.76,355.35 L242.87,356.12 L242.99,356.89 L243.11,357.66 L243.22,358.42 L243.34,359.19 L243.46,359.96 L243.58,360.73 L243.70,361.49 L243.82,362.25 L243.94,363.02 L244.06,363.78 L244.19,364.54 L244.31,365.30 L244.43,366.06 L244.55,366.82 L244.68,367.57 L244.80,368.32 L244.93,369.08 L245.05,369.83 L245.18,370.58 L245.31,371.32 L245.43,372.07 L245.56,372.81 L245.69,373.56 L245.82,374.30 L245.95,375.03 L246.08,375.77 L246.21,376.50 L246.34,377.24 L246.47,377.97 L246.60,378.69 L246.73,379.42 L246.87,380.14 L247.00,380.86 L247.14,381.58 L247.27,382.30 L247.41,383.03 L247.56,383.76 L247.70,384.49 L247.85,385.23 L248.01,385.98 L248.17,386.73 L248.34,387.50 L248.51,388.28 L248.69,389.07 L248.88,389.88 L249.08,390.70 L249.29,391.54 L249.50,392.38 L249.72,393.24 L249.95,394.11 L250.20,394.98 L250.45,395.85 L250.71,396.74 L250.98,397.62 L251.26,398.50 L251.55,399.38 L251.85,400.25 L252.16,401.13 L252.49,401.99 L252.82,402.84 L253.16,403.67 L253.52,404.46 L253.88,405.22 L254.25,405.92 L254.62,406.56 L255.01,407.13 L255.39,407.62 L255.79,408.02 L256.18,408.32 L256.58,408.52 L256.99,408.59 L257.39,408.54 L257.80,408.37 L258.21,408.09 L258.61,407.71 L259.01,407.24 L259.41,406.69 L259.80,406.07 L260.19,405.39 L260.57,404.65 L260.94,403.88 L261.31,403.07 L261.66,402.25 L262.00,401.41 L262.33,400.57 L262.64,399.73 L262.94,398.90 L263.23,398.08 L263.51,397.26 L263.77,396.45 L264.03,395.64 L264.27,394.84 L264.50,394.04 L264.73,393.25 L264.94,392.46 L265.15,391.67 L265.34,390.89 L265.53,390.11 L265.71,389.33 L265.89,388.56 L266.05,387.78 L266.22,387.02 L266.37,386.25 L266.52,385.48 L266.67,384.72 L266.81,383.95 L266.95,383.19 L267.09,382.43 L267.23,381.67 L267.36,380.91 L267.49,380.15 L267.62,379.39 L267.75,378.63 L267.87,377.87 L268.00,377.11 L268.13,376.34 L268.25,375.58 L268.37,374.82 L268.50,374.06 L268.62,373.29 L268.74,372.53 L268.86,371.77 L268.98,371.00 L269.10,370.24 L269.21,369.48 L269.33,368.71 L269.45,367.95 L269.56,367.18 L269.68,366.42 L269.79,365.66 L269.90,364.89 L270.02,364.12 L270.13,363.36 L270.24,362.59 L270.35,361.83 L270.46,361.06 L270.57,360.30 L270.68,359.53 L270.78,358.76 L270.89,358.00 L271.00,357.23 L271.11,356.46 L271.21,355.70 L271.32,354.93 L271.42,354.16 L271.53,353.39 L271.63,352.63 L271.73,351.86 L271.84,351.09 L271.94,350.32 L272.04,349.56 L272.14,348.79 L272.25,348.02 L272.35,347.25 L272.45,346.48 L272.55,345.71 L272.65,344.95 L272.75,344.18 L272.85,343.41 L272.95,342.64 L273.05,341.87 L273.15,341.10 L273.25,340.33 L273.35,339.57 L273.45,338.80 L273.55,338.03 L273.64,337.26 L273.74,336.49 L273.84,335.72 L273.94,334.95 L274.04,334.18 L274.14,333.41 L274.24,332.64 L274.33,331.87 L274.43,331.11 L274.53,330.34 L274.63,329.57 L274.73,328.80 L274.83,328.03 L274.93,327.26 L275.03,326.49 L275.13,325.72 L275.22,324.95 L275.32,324.18 L275.42,323.41 L275.52,322.65 L275.62,321.88 L275.72,321.11 L275.83,320.34 L275.93,319.57 L276.03,318.80 L276.13,318.03 L276.23,317.26 L276.33,316.50 L276.44,315.73 L276.54,314.96 L276.64,314.19 L276.75,313.42 L276.85,312.66 L276.96,311.89 L277.06,311.12 L277.17,310.35 L277.27,309.59 L277.38,308.82 L277.49,308.05 L277.60,307.28 L277.70,306.52 L277.81,305.75 L277.92,304.98 L278.03,304.22 L278.14,303.45 L278.25,302.68 L278.36,301.92 L278.47,301.15 L278.58,300.38 L278.70,299.62 L278.81,298.85 L278.92,298.09 L279.04,297.32 L279.15,296.55 L279.26,295.79 L279.38,295.02 L279.49,294.26 L279.61,293.49 L279.73,292.73 L279.84,291.96 L279.96,291.20 L280.08,290.43 L280.19,289.67 L280.31,288.90 L280.43,288.14 L280.55,287.37 L280.67,286.61 L280.79,285.84 L280.91,285.08 L281.03,284.32 L281.15,283.55 L281.27,282.79 L281.40,282.02 L281.52,281.26 L281.64,280.50 L281.76,279.73 L281.89,278.97 L282.01,278.21 L282.14,277.44 L282.26,276.68 L282.39,275.92 L282.51,275.15 L282.64,274.39 L282.76,273.63 L282.89,272.86 L283.02,272.10 L283.15,271.34 L283.27,270.58 L283.40,269.81 L283.53,269.05 L283.66,268.29 L283.79,267.53 L283.92,266.76 L284.05,266.00 L284.18,265.24 L284.31,264.48 L284.45,263.72 L284.58,262.95 L284.71,262.19 L284.84,261.43 L284.98,260.67 L285.11,259.91 L285.24,259.15 L285.38,258.38 L285.51,257.62 L285.65,256.86 L285.78,256.10 L285.92,255.34 L286.05,254.58 L286.19,253.82 L286.33,253.06 L286.47,252.30 L286.60,251.53 L286.74,250.77 L286.88,250.01 L287.02,249.25 L287.16,248.49 L287.30,247.73 L287.44,246.97 L287.58,246.21 L287.72,245.45 L287.86,244.69 L288.00,243.93 L288.14,243.17 L288.28,242.41 L288.42,241.65 L288.57,240.89 L288.71,240.13 L288.85,239.37 L289.00,238.61 L289.14,237.85 L289.28,237.09 L289.43,236.33 L289.57,235.57 L289.72,234.81 L289.86,234.05 L290.01,233.30 L290.16,232.54 L290.30,231.78 L290.45,231.02 L290.60,230.26 L290.74,229.50 L290.89,228.74 L291.04,227.98 L291.19,227.22 L291.34,226.46 L291.49,225.71 L291.64,224.95 L291.79,224.19 L291.94,223.43 L292.09,222.67 L292.24,221.91 L292.39,221.15 L292.54,220.40 L292.69,219.64 L292.84,218.88 L293.00,218.12 L293.15,217.36 L293.30,216.60 L293.45,215.85 L293.61,215.09 L293.76,214.33 L293.92,213.57 L294.07,212.81 L294.22,212.06 L294.38,211.30 L294.53,210.54 L294.69,209.78 L294.85,209.02 L295.00,208.27 L295.16,207.51 L295.31,206.75 L295.47,205.99 L295.63,205.24 L295.79,204.48 L295.94,203.72 L296.10,202.96 L296.26,202.21 L296.42,201.45 L296.58,200.69 L296.74,199.93 L296.90,199.18 L297.06,198.42 L297.22,197.66 L297.38,196.90 L297.54,196.15 L297.70,195.39 L297.86,194.63 L298.02,193.87 L298.18,193.12 L298.34,192.36 L298.50,191.60 L298.67,190.85 L298.83,190.09 L298.99,189.33 L299.15,188.58 L299.32,187.82 L299.48,187.06 L299.65,186.30 L299.81,185.55 L299.97,184.79 L300.14,184.03 L300.30,183.28 L300.47,182.52 L300.63,181.76 L300.80,181.01 L300.96,180.25 L301.13,179.49 L301.30,178.74 L301.46,177.98 L301.63,177.22 L301.80,176.47 L301.96,175.71 L302.13,174.95 L302.30,174.20 L302.47,173.44 L302.63,172.68 L302.80,171.93 L302.97,171.17 L303.14,170.41 L303.31,169.66 L303.48,168.90 L303.65,168.14 L303.82,167.39 L303.99,166.63 L304.16,165.87 L304.33,165.12 L304.50,164.36 L304.67,163.61 L304.84,162.85 L305.01,162.09 L305.18,161.34 L305.35,160.58 L305.52,159.82 L305.69,159.07 L305.87,158.31 L306.04,157.55 L306.21,156.80 L306.38,156.04 L306.56,155.28 L306.73,154.53 L306.90,153.77 L307.08,153.02 L307.25,152.26 L307.42,151.50 L307.60,150.75 L307.77,149.99 L307.95,149.23 L308.12,148.48 L308.29,147.72 L308.47,146.96 L308.64,146.21 L308.82,145.45 L308.99,144.69 L309.17,143.94 L309.35,143.18 L309.52,142.42 L309.70,141.67 L309.87,140.91 L310.05,140.15 L310.23,139.40 L310.40,138.64 L310.58,137.89 L310.76,137.13 L310.93,136.37 L311.11,135.62 L311.29,134.86 L311.47,134.10 L311.64,133.35 L311.82,132.59 L312.00,131.83 L312.18,131.08 L312.36,130.32 L312.54,129.56 L312.72,128.81 L312.90,128.05 L313.08,127.29 L313.26,126.54 L313.44,125.78 L313.62,125.03 L313.80,124.27 L313.99,123.52 L314.17,122.76 L314.36,122.01 L314.54,121.25 L314.73,120.50 L314.91,119.74 L315.10,118.99 L315.29,118.24 L315.47,117.48 L315.66,116.73 L315.85,115.98 L316.04,115.23 L316.24,114.47 L316.43,113.72 L316.62,112.97 L316.82,112.22 L317.01,111.47 L317.21,110.72 L317.40,109.97 L317.60,109.22 L317.80,108.47 L318.00,107.72 L318.20,106.97 L318.41,106.23 L318.61,105.48 L318.82,104.73 L319.02,103.99 L319.23,103.24 L319.44,102.50 L319.65,101.75 L319.86,101.01 L320.07,100.27 L320.29,99.52 L320.50,98.78 L320.72,98.04 L320.94,97.30 L321.16,96.56 L321.38,95.82 L321.60,95.08 L321.82,94.34 L322.05,93.61 L322.28,92.87 L322.51,92.13 L322.74,91.40 L322.97,90.66 L323.20,89.93 L323.44,89.20 L323.68,88.47 L323.92,87.73 L324.16,87.00 L324.40,86.27 L324.64,85.55 L324.89,84.82 L325.14,84.09 L325.39,83.36 L325.64,82.64 L325.90,81.92 L326.15,81.19 L326.41,80.47 L326.67,79.75 L326.93,79.03 L327.20,78.31 L327.46,77.59 L327.73,76.87 L328.00,76.15 L328.28,75.44 L328.55,74.72 L328.83,74.01 L329.11,73.30 L329.39,72.59 L329.68,71.88 L329.96,71.17 L330.25,70.46 L330.54,69.75 L330.84,69.04 L331.13,68.34 L331.43,67.64 L331.73,66.93 L332.04,66.23 L332.34,65.53 L332.65,64.83 L332.97,64.14 L333.28,63.44 L333.60,62.74 L333.92,62.05 L334.24,61.36 L334.57,60.67 L334.91,59.99 L335.25,59.31 L335.60,58.64 L335.96,57.98 L336.34,57.32 L336.73,56.68 L337.13,56.05 L337.55,55.43 L337.99,54.82 L338.44,54.23 L338.92,53.66 L339.42,53.10 L339.94,52.56 L340.48,52.04 L341.05,51.54 L341.65,51.06 L342.27,50.61 L342.91,50.18 L343.58,49.77 L344.27,49.39 L344.98,49.03 L345.70,48.69 L346.44,48.39 L347.19,48.10 L347.96,47.85 L348.73,47.62 L349.51,47.42 L350.29,47.25 L351.08,47.11 L351.88,47.00 L352.67,46.92 L353.46,46.87 L354.25,46.85 L355.03,46.86 L355.81,46.91 L356.58,46.98 L357.34,47.09 L358.10,47.22 L358.85,47.38 L359.59,47.57 L360.32,47.79 L361.05,48.03 L361.76,48.30 L362.47,48.59 L363.16,48.91 L363.85,49.24 L364.52,49.60 L365.19,49.98 L365.84,50.38 L366.48,50.80 L367.11,51.24 L367.73,51.70 L368.34,52.17 L368.93,52.66 L369.51,53.16 L370.07,53.68 L370.62,54.21 L371.16,54.75 L371.68,55.31 L372.18,55.87 L372.68,56.45 L373.15,57.04 L373.61,57.63 L374.06,58.24 L374.49,58.85 L374.91,59.48 L375.32,60.11 L375.71,60.75 L376.10,61.40 L376.47,62.06 L376.83,62.73 L377.18,63.40 L377.51,64.08 L377.84,64.77 L378.16,65.46 L378.47,66.16 L378.77,66.86 L379.06,67.57 L379.34,68.29 L379.61,69.01 L379.88,69.74 L380.14,70.47 L380.39,71.21 L380.64,71.94 L380.88,72.69 L381.11,73.43 L381.34,74.18 L381.57,74.94 L381.79,75.69 L382.01,76.45 L382.22,77.21 L382.43,77.97 L382.64,78.73 L382.84,79.50 L383.04,80.26 L383.24,81.03 L383.44,81.79 L383.64,82.56 L383.84,83.33 L384.04,84.09 L384.24,84.86 L384.44,85.62 L384.63,86.39 L384.83,87.15 L385.03,87.91 L385.23,88.68 L385.43,89.44 L385.62,90.20 L385.82,90.96 L386.02,91.72 L386.22,92.48 L386.42,93.24 L386.61,94.00 L386.81,94.76 L387.01,95.52 L387.21,96.28 L387.41,97.03 L387.60,97.79 L387.80,98.55 L388.00,99.30 L388.20,100.06 L388.40,100.81 L388.59,101.57 L388.79,102.32 L388.99,103.08 L389.19,103.83 L389.38,104.59 L389.58,105.34 L389.78,106.09 L389.97,106.85 L390.17,107.60 L390.37,108.35 L390.56,109.10 L390.76,109.86 L390.96,110.61 L391.15,111.36 L391.35,112.11 L391.55,112.86 L391.74,113.61 L391.94,114.36 L392.13,115.11 L392.33,115.86 L392.52,116.61 L392.72,117.36 L392.91,118.11 L393.11,118.86 L393.30,119.60 L393.50,120.35 L393.69,121.10 L393.89,121.85 L394.08,122.60 L394.28,123.35 L394.47,124.09 L394.66,124.84 L394.86,125.59 L395.05,126.33 L395.24,127.08 L395.43,127.83 L395.63,128.58 L395.82,129.32 L396.01,130.07 L396.20,130.82 L396.39,131.56 L396.59,132.31 L396.78,133.06 L396.97,133.80 L397.16,134.55 L397.35,135.29 L397.54,136.04 L397.73,136.79 L397.92,137.53 L398.11,138.28 L398.30,139.03 L398.49,139.77 L398.67,140.52 L398.86,141.27 L399.05,142.01 L399.24,142.76 L399.42,143.51 L399.61,144.25 L399.80,145.00 L399.98,145.74 L400.17,146.49 L400.36,147.24 L400.54,147.99 L400.73,148.73 L400.91,149.48 L401.10,150.23 L401.28,150.97 L401.46,151.72 L401.65,152.47 L401.83,153.22 L402.01,153.97 L402.20,154.71 L402.38,155.46 L402.56,156.21 L402.74,156.96 L402.92,157.71 L403.10,158.46 L403.28,159.21 L403.46,159.96 L403.64,160.71 L403.82,161.46 L404.00,162.21 L404.18,162.96 L404.36,163.71 L404.53,164.46 L404.71,165.21 L404.89,165.96 L405.06,166.71 L405.24,167.46 L405.41,168.21 L405.59,168.97 L405.76,169.72 L405.94,170.47 L406.11,171.22 L406.29,171.97 L406.46,172.73 L406.63,173.48 L406.81,174.23 L406.98,174.99 L407.15,175.74 L407.32,176.49 L407.49,177.25 L407.66,178.00 L407.83,178.76 L408.00,179.51 L408.17,180.26 L408.34,181.02 L408.51,181.77 L408.68,182.53 L408.85,183.28 L409.01,184.04 L409.18,184.79 L409.35,185.55 L409.51,186.31 L409.68,187.06 L409.85,187.82 L410.01,188.57 L410.18,189.33 L410.34,190.09 L410.51,190.84 L410.67,191.60 L410.83,192.36 L411.00,193.11 L411.16,193.87 L411.32,194.63 L411.48,195.39 L411.64,196.14 L411.81,196.90 L411.97,197.66 L412.13,198.42 L412.29,199.18 L412.45,199.93 L412.61,200.69 L412.76,201.45 L412.92,202.21 L413.08,202.97 L413.24,203.73 L413.40,204.49 L413.55,205.25 L413.71,206.01 L413.87,206.77 L414.02,207.53 L414.18,208.28 L414.33,209.04 L414.49,209.80 L414.64,210.56 L414.80,211.33 L414.95,212.09 L415.10,212.85 L415.25,213.61 L415.41,214.37 L415.56,215.13 L415.71,215.89 L415.86,216.65 L416.01,217.41 L416.16,218.17 L416.31,218.93 L416.46,219.70 L416.61,220.46 L416.76,221.22 L416.91,221.98 L417.06,222.74 L417.21,223.50 L417.35,224.27 L417.50,225.03 L417.65,225.79 L417.79,226.55 L417.94,227.31 L418.09,228.08 L418.23,228.84 L418.38,229.60 L418.52,230.37 L418.66,231.13 L418.81,231.89 L418.95,232.65 L419.09,233.42 L419.24,234.18 L419.38,234.94 L419.52,235.71 L419.66,236.47 L419.80,237.23 L419.94,238.00 L420.09,238.76 L420.22,239.52 L420.36,240.29 L420.50,241.05 L420.64,241.82 L420.78,242.58 L420.92,243.34 L421.06,244.11 L421.19,244.87 L421.33,245.64 L421.47,246.40 L421.60,247.16 L421.74,247.93 L421.87,248.69 L422.01,249.46 L422.14,250.22 L422.28,250.99 L422.41,251.75 L422.55,252.52 L422.68,253.28 L422.81,254.04 L422.94,254.81 L423.08,255.57 L423.21,256.34 L423.34,257.10 L423.47,257.87 L423.60,258.63 L423.73,259.40 L423.86,260.16 L423.99,260.93 L424.12,261.69 L424.25,262.46 L424.38,263.22 L424.50,263.99 L424.63,264.76 L424.76,265.52 L424.88,266.29 L425.01,267.05 L425.14,267.82 L425.26,268.58 L425.39,269.35 L425.51,270.11 L425.64,270.88 L425.76,271.64 L425.88,272.41 L426.01,273.17 L426.13,273.94 L426.25,274.71 L426.37,275.47 L426.50,276.24 L426.62,277.00 L426.74,277.77 L426.86,278.53 L426.98,279.30 L427.10,280.06 L427.22,280.83 L427.34,281.59 L427.46,282.36 L427.58,283.13 L427.69,283.89 L427.81,284.66 L427.93,285.42 L428.05,286.19 L428.16,286.95 L428.28,287.72 L428.39,288.48 L428.51,289.25 L428.62,290.02 L428.74,290.78 L428.85,291.55 L428.97,292.31 L429.08,293.08 L429.19,293.84 L429.31,294.61 L429.42,295.37 L429.53,296.14 L429.64,296.90 L429.75,297.67 L429.86,298.43 L429.97,299.20 L430.08,299.97 L430.19,300.73 L430.30,301.50 L430.41,302.26 L430.52,303.03 L430.63,303.79 L430.74,304.56 L430.84,305.32 L430.95,306.09 L431.06,306.85 L431.16,307.62 L431.27,308.38 L431.37,309.14 L431.48,309.91 L431.58,310.67 L431.69,311.44 L431.79,312.20 L431.90,312.97 L432.00,313.73 L432.10,314.50 L432.21,315.26 L432.31,316.03 L432.41,316.79 L432.51,317.55 L432.61,318.32 L432.71,319.08 L432.81,319.85 L432.91,320.61 L433.01,321.37 L433.11,322.14 L433.21,322.90 L433.31,323.66 L433.41,324.43 L433.50,325.19 L433.60,325.96 L433.70,326.72 L433.79,327.48 L433.89,328.25 L433.99,329.01 L434.08,329.77 L434.18,330.53 L434.28,331.30 L434.37,332.06 L434.47,332.82 L434.56,333.59 L434.66,334.35 L434.76,335.11 L434.85,335.88 L434.95,336.64 L435.05,337.40 L435.15,338.17 L435.24,338.93 L435.34,339.69 L435.44,340.45 L435.54,341.22 L435.64,341.98 L435.74,342.74 L435.84,343.51 L435.94,344.27 L436.04,345.03 L436.15,345.80 L436.25,346.56 L436.35,347.32 L436.46,348.08 L436.57,348.85 L436.67,349.61 L436.78,350.37 L436.89,351.14 L437.00,351.90 L437.11,352.67 L437.22,353.43 L437.34,354.19 L437.45,354.96 L437.56,355.72 L437.68,356.48 L437.80,357.25 L437.92,358.01 L438.04,358.78 L438.16,359.54 L438.29,360.31 L438.41,361.07 L438.54,361.84 L438.66,362.60 L438.79,363.36 L438.93,364.13 L439.06,364.89 L439.19,365.66 L439.33,366.43 L439.47,367.19 L439.61,367.96 L439.75,368.72 L439.89,369.49 L440.04,370.25 L440.19,371.02 L440.34,371.79 L440.49,372.55 L440.64,373.32 L440.80,374.09 L440.96,374.86 L441.12,375.62 L441.28,376.39 L441.45,377.16 L441.62,377.93 L441.79,378.69 L441.96,379.46 L442.13,380.23 L442.31,381.00 L442.49,381.77 L442.67,382.54 L442.86,383.31 L443.04,384.08 L443.24,384.85 L443.43,385.62 L443.62,386.39 L443.82,387.16 L444.02,387.93 L444.23,388.70 L444.44,389.47 L444.65,390.24 L444.86,391.01 L445.08,391.79 L445.30,392.56 L445.52,393.34 L445.75,394.12 L445.99,394.90 L446.23,395.69 L446.47,396.48 L446.73,397.28 L446.99,398.09 L447.25,398.90 L447.53,399.72 L447.81,400.55 L448.10,401.40 L448.40,402.24 L448.70,403.08 L449.02,403.91 L449.34,404.71 L449.68,405.47 L450.02,406.18 L450.36,406.83 L450.72,407.42 L451.08,407.92 L451.45,408.33 L451.83,408.63 L452.21,408.82 L452.60,408.89 L453.00,408.83 L453.39,408.65 L453.80,408.36 L454.20,407.98 L454.60,407.50 L454.99,406.94 L455.39,406.30 L455.77,405.61 L456.14,404.85 L456.51,404.05 L456.86,403.22 L457.19,402.35 L457.51,401.47 L457.81,400.57 L458.10,399.67 L458.36,398.76 L458.61,397.85 L458.85,396.94 L459.07,396.03 L459.28,395.12 L459.47,394.22 L459.66,393.33 L459.83,392.45 L460.00,391.58 L460.16,390.73 L460.31,389.90 L460.45,389.08 L460.59,388.29 L460.72,387.51 L460.85,386.75 L460.98,386.01 L461.10,385.27 L461.23,384.54 L461.35,383.83 L461.47,383.11 L461.59,382.40 L461.71,381.69 L461.83,380.98 L461.95,380.27 L462.08,379.55 L462.21,378.83 L462.35,378.10 L462.48,377.36 L462.62,376.62 L462.76,375.88 L462.91,375.13 L463.05,374.38 L463.19,373.62 L463.34,372.86 L463.48,372.10 L463.63,371.34 L463.77,370.58 L463.92,369.81 L464.06,369.04 L464.20,368.28 L464.34,367.51 L464.47,366.74 L464.61,365.97 L464.74,365.21 L464.87,364.44 L465.00,363.67 L465.12,362.90 L465.25,362.13 L465.37,361.36 L465.49,360.59 L465.61,359.83 L465.73,359.06 L465.85,358.29 L465.96,357.52 L466.07,356.75 L466.19,355.98 L466.30,355.21 L466.41,354.44 L466.51,353.67 L466.62,352.90 L466.73,352.13 L466.83,351.36 L466.94,350.59 L467.04,349.82 L467.14,349.05 L467.24,348.28 L467.34,347.51 L467.44,346.74 L467.54,345.97 L467.64,345.20 L467.73,344.43 L467.83,343.66 L467.93,342.89 L468.02,342.12 L468.12,341.35 L468.21,340.59 L468.30,339.82 L468.40,339.05 L468.49,338.28 L468.59,337.51 L468.68,336.74 L468.77,335.97 L468.86,335.20 L468.96,334.43 L469.05,333.66 L469.14,332.89 L469.24,332.12 L469.33,331.36 L469.42,330.59 L469.52,329.82 L469.61,329.05 L469.71,328.28 L469.80,327.51 L469.90,326.75 L470.00,325.98 L470.09,325.21 L470.19,324.44 L470.29,323.68 L470.39,322.91 L470.49,322.14 L470.59,321.37 L470.69,320.61 L470.79,319.84 L470.89,319.07 L470.99,318.31 L471.10,317.54 L471.20,316.78 L471.30,316.01 L471.41,315.24 L471.51,314.48 L471.62,313.71 L471.73,312.95 L471.83,312.18 L471.94,311.42 L472.05,310.65 L472.16,309.89 L472.26,309.12 L472.37,308.36 L472.48,307.59 L472.59,306.83 L472.70,306.06 L472.81,305.30 L472.92,304.53 L473.03,303.77 L473.14,303.00 L473.25,302.24 L473.36,301.47 L473.47,300.71 L473.58,299.94 L473.69,299.18 L473.80,298.41 L473.92,297.65 L474.03,296.88 L474.14,296.12 L474.25,295.35 L474.36,294.59 L474.47,293.82 L474.58,293.06 L474.69,292.29 L474.81,291.53 L474.92,290.76 L475.03,289.99 L475.14,289.23 L475.25,288.46 L475.36,287.70 L475.47,286.93 L475.58,286.16 L475.69,285.40 L475.80,284.63 L475.91,283.87 L476.02,283.10 L476.12,282.33 L476.23,281.56 L476.34,280.80 L476.45,280.03 L476.55,279.26 L476.66,278.50 L476.77,277.73 L476.87,276.96 L476.98,276.19 L477.08,275.42 L477.19,274.65 L477.29,273.89 L477.40,273.12 L477.50,272.35 L477.61,271.58 L477.71,270.81 L477.82,270.04 L477.92,269.27 L478.02,268.50 L478.13,267.74 L478.23,266.97 L478.34,266.20 L478.44,265.43 L478.54,264.66 L478.65,263.89 L478.75,263.12 L478.86,262.35 L478.96,261.58 L479.06,260.81 L479.17,260.04 L479.27,259.27 L479.38,258.50 L479.49,257.73 L479.59,256.97 L479.70,256.20 L479.80,255.43 L479.91,254.66 L480.02,253.89 L480.12,253.12 L480.23,252.35 L480.34,251.58 L480.45,250.81 L480.56,250.05 L480.67,249.28 L480.78,248.51 L480.89,247.74 L481.00,246.97 L481.11,246.21 L481.23,245.44 L481.34,244.67 L481.45,243.90 L481.57,243.14 L481.68,242.37 L481.80,241.60 L481.92,240.84 L482.04,240.07 L482.15,239.30 L482.27,238.54 L482.39,237.77 L482.51,237.01 L482.64,236.24 L482.76,235.48 L482.88,234.71 L483.01,233.95 L483.13,233.18 L483.26,232.42 L483.39,231.65 L483.52,230.89 L483.65,230.13 L483.78,229.37 L483.91,228.60 L484.04,227.84 L484.17,227.08 L484.31,226.32 L484.44,225.55 L484.58,224.79 L484.72,224.03 L484.85,223.27 L484.99,222.51 L485.13,221.75 L485.27,220.99 L485.41,220.23 L485.55,219.47 L485.70,218.71 L485.84,217.95 L485.98,217.19 L486.13,216.43 L486.27,215.67 L486.42,214.91 L486.57,214.15 L486.72,213.39 L486.87,212.64 L487.02,211.88 L487.17,211.12 L487.32,210.36 L487.47,209.60 L487.62,208.85 L487.78,208.09 L487.93,207.33 L488.09,206.58 L488.24,205.82 L488.40,205.06 L488.56,204.31 L488.71,203.55 L488.87,202.79 L489.03,202.04 L489.19,201.28 L489.35,200.53 L489.52,199.77 L489.68,199.02 L489.84,198.26 L490.00,197.51 L490.17,196.75 L490.33,196.00 L490.50,195.24 L490.67,194.49 L490.83,193.73 L491.00,192.98 L491.17,192.23 L491.34,191.47 L491.51,190.72 L491.68,189.96 L491.85,189.21 L492.02,188.46 L492.19,187.71 L492.37,186.95 L492.54,186.20 L492.71,185.45 L492.89,184.69 L493.06,183.94 L493.24,183.19 L493.41,182.44 L493.59,181.68 L493.77,180.93 L493.95,180.18 L494.13,179.43 L494.30,178.68 L494.48,177.92 L494.67,177.17 L494.85,176.42 L495.03,175.67 L495.21,174.92 L495.39,174.17 L495.57,173.41 L495.76,172.66 L495.94,171.91 L496.13,171.16 L496.31,170.41 L496.50,169.66 L496.68,168.91 L496.87,168.16 L497.06,167.41 L497.24,166.66 L497.43,165.90 L497.62,165.15 L497.81,164.40 L498.00,163.65 L498.19,162.90 L498.38,162.15 L498.57,161.40 L498.76,160.65 L498.95,159.90 L499.14,159.15 L499.33,158.40 L499.53,157.65 L499.72,156.90 L499.91,156.15 L500.11,155.40 L500.30,154.65 L500.50,153.90 L500.69,153.15 L500.89,152.40 L501.08,151.65 L501.28,150.90 L501.47,150.15 L501.67,149.40 L501.87,148.65 L502.07,147.90 L502.26,147.15 L502.46,146.40 L502.66,145.65 L502.86,144.90 L503.06,144.15 L503.26,143.40 L503.46,142.65 L503.66,141.90 L503.86,141.15 L504.06,140.40 L504.26,139.65 L504.46,138.90 L504.66,138.15 L504.86,137.40 L505.07,136.65 L505.27,135.90 L505.47,135.15 L505.67,134.40 L505.88,133.65 L506.08,132.90 L506.28,132.15 L506.49,131.40 L506.69,130.65 L506.90,129.90 L507.10,129.15 L507.31,128.40 L507.51,127.65 L507.71,126.90 L507.92,126.15 L508.13,125.40 L508.33,124.64 L508.54,123.89 L508.74,123.14 L508.95,122.39 L509.16,121.64 L509.36,120.89 L509.57,120.14 L509.78,119.39 L509.98,118.64 L510.19,117.89 L510.40,117.14 L510.61,116.39 L510.81,115.64 L511.02,114.89 L511.23,114.14 L511.44,113.39 L511.65,112.64 L511.86,111.89 L512.07,111.14 L512.28,110.39 L512.49,109.64 L512.70,108.90 L512.91,108.15 L513.12,107.40 L513.34,106.65 L513.55,105.91 L513.76,105.16 L513.97,104.42 L514.19,103.67 L514.40,102.92 L514.61,102.18 L514.83,101.44 L515.04,100.69 L515.26,99.95 L515.47,99.21 L515.69,98.47 L515.90,97.72 L516.12,96.98 L516.33,96.24 L516.55,95.50 L516.77,94.76 L516.99,94.03 L517.20,93.29 L517.42,92.55 L517.64,91.81 L517.86,91.08 L518.08,90.34 L518.30,89.61 L518.52,88.88 L518.74,88.14 L518.96,87.41 L519.19,86.68 L519.41,85.95 L519.63,85.22 L519.85,84.49 L520.08,83.76 L520.30,83.04 L520.53,82.31 L520.75,81.58 L520.98,80.86 L521.20,80.14 L521.43,79.41 L521.66,78.69 L521.89,77.97 L522.13,77.25 L522.36,76.53 L522.60,75.81 L522.84,75.09 L523.09,74.37 L523.34,73.65 L523.59,72.92 L523.85,72.20 L524.11,71.48 L524.37,70.76 L524.65,70.04 L524.92,69.32 L525.20,68.59 L525.49,67.87 L525.79,67.14 L526.09,66.42 L526.39,65.69 L526.71,64.96 L527.03,64.23 L527.36,63.50 L527.70,62.77 L528.04,62.04 L528.40,61.30 L528.76,60.57 L529.13,59.83 L529.52,59.10 L529.91,58.38 L530.32,57.66 L530.74,56.95 L531.17,56.25 L531.61,55.57 L532.07,54.90 L532.55,54.25 L533.04,53.62 L533.55,53.01 L534.07,52.42 L534.62,51.87 L535.18,51.34 L535.76,50.84 L536.36,50.37 L536.98,49.94 L537.62,49.54 L538.29,49.18 L538.98,48.87 L539.69,48.59 L540.42,48.36 L541.17,48.17 L541.94,48.02 L542.72,47.91 L543.51,47.83 L544.31,47.79 L545.12,47.78 L545.93,47.81 L546.74,47.87 L547.55,47.96 L548.36,48.07 L549.16,48.22 L549.95,48.39 L550.73,48.58 L551.49,48.80 L552.24,49.04 L552.97,49.30 L553.68,49.58 L554.38,49.88 L555.07,50.20 L555.74,50.55 L556.39,50.91 L557.03,51.29 L557.66,51.68 L558.27,52.10 L558.87,52.53 L559.46,52.98 L560.03,53.44 L560.59,53.92 L561.14,54.42 L561.68,54.92 L562.21,55.45 L562.72,55.98 L563.23,56.53 L563.72,57.09 L564.20,57.67 L564.68,58.25 L565.14,58.84 L565.60,59.45 L566.04,60.06 L566.48,60.69 L566.91,61.32 L567.33,61.96 L567.75,62.61 L568.15,63.26 L568.55,63.93 L568.94,64.59 L569.33,65.27 L569.71,65.95 L570.08,66.63 L570.45,67.32 L570.82,68.01 L571.17,68.70 L571.53,69.40 L571.88,70.10 L572.22,70.80 L572.57,71.50 L572.91,72.20 L573.24,72.90 L573.57,73.61 L573.90,74.32 L574.22,75.02 L574.54,75.73 L574.86,76.44 L575.18,77.15 L575.49,77.86 L575.79,78.57 L576.10,79.29 L576.40,80.00 L576.69,80.72 L576.99,81.43 L577.28,82.15 L577.57,82.87 L577.85,83.59 L578.13,84.31 L578.41,85.03 L578.69,85.76 L578.96,86.48 L579.23,87.20 L579.50,87.93 L579.76,88.66 L580.02,89.38 L580.28,90.11 L580.54,90.84 L580.79,91.57 L581.04,92.30 L581.29,93.03 L581.53,93.76 L581.78,94.50 L582.02,95.23 L582.25,95.97 L582.49,96.70 L582.72,97.44 L582.95,98.17 L583.18,98.91 L583.41,99.65 L583.63,100.39 L583.85,101.13 L584.07,101.87 L584.29,102.61 L584.50,103.35 L584.72,104.10 L584.93,104.84 L585.14,105.58 L585.34,106.33 L585.55,107.07 L585.75,107.82 L585.95,108.57 L586.15,109.31 L586.35,110.06 L586.55,110.81 L586.74,111.56 L586.93,112.31 L587.12,113.06 L587.31,113.81 L587.50,114.56 L587.69,115.31 L587.87,116.06 L588.06,116.81 L588.24,117.57 L588.42,118.32 L588.60,119.07 L588.78,119.83 L588.95,120.58 L589.13,121.34 L589.30,122.09 L589.48,122.85 L589.65,123.60 L589.82,124.36 L589.99,125.11 L590.16,125.87 L590.33,126.63 L590.50,127.39 L590.66,128.14 L590.83,128.90 L590.99,129.66 L591.16,130.42 L591.32,131.18 L591.48,131.94 L591.64,132.69 L591.80,133.45 L591.96,134.21 L592.12,134.97 L592.28,135.73 L592.44,136.49 L592.60,137.25 L592.76,138.01 L592.92,138.77 L593.07,139.53 L593.23,140.30 L593.39,141.06 L593.55,141.82 L593.70,142.58 L593.86,143.34 L594.01,144.10 L594.17,144.86 L594.33,145.62 L594.48,146.38 L594.64,147.14 L594.79,147.90 L594.95,148.67 L595.11,149.43 L595.26,150.19 L595.42,150.95 L595.58,151.71 L595.73,152.47 L595.89,153.23 L596.05,153.99 L596.21,154.75 L596.37,155.51 L596.53,156.27 L596.69,157.03 L596.85,157.79 L597.01,158.55 L597.17,159.31 L597.33,160.07 L597.49,160.83 L597.66,161.59 L597.82,162.34 L597.98,163.10 L598.15,163.86 L598.31,164.62 L598.48,165.38 L598.65,166.13 L598.81,166.89 L598.98,167.65 L599.15,168.41 L599.32,169.16 L599.48,169.92 L599.65,170.68 L599.82,171.43 L599.99,172.19 L600.16,172.95 L600.33,173.70 L600.50,174.46 L600.67,175.22 L600.84,175.97 L601.01,176.73 L601.19,177.48 L601.36,178.24 L601.53,178.99 L601.70,179.75 L601.88,180.51 L602.05,181.26 L602.22,182.02 L602.39,182.77 L602.57,183.53 L602.74,184.28 L602.91,185.04 L603.09,185.79 L603.26,186.55 L603.44,187.30 L603.61,188.05 L603.78,188.81 L603.96,189.56 L604.13,190.32 L604.31,191.07 L604.48,191.83 L604.66,192.58 L604.83,193.34 L605.00,194.09 L605.18,194.84 L605.35,195.60 L605.53,196.35 L605.70,197.11 L605.87,197.86 L606.05,198.62 L606.22,199.37 L606.40,200.12 L606.57,200.88 L606.74,201.63 L606.92,202.39 L607.09,203.14 L607.26,203.89 L607.43,204.65 L607.61,205.40 L607.78,206.16 L607.95,206.91 L608.12,207.67 L608.29,208.42 L608.47,209.17 L608.64,209.93 L608.81,210.68 L608.98,211.44 L609.15,212.19 L609.32,212.95 L609.49,213.70 L609.65,214.46 L609.82,215.21 L609.99,215.96 L610.16,216.72 L610.33,217.47 L610.49,218.23 L610.66,218.98 L610.83,219.74 L610.99,220.49 L611.16,221.25 L611.32,222.01 L611.48,222.76 L611.65,223.52 L611.81,224.27 L611.97,225.03 L612.13,225.78 L612.30,226.54 L612.46,227.30 L612.62,228.05 L612.78,228.81 L612.93,229.57 L613.09,230.32 L613.25,231.08 L613.41,231.84 L613.56,232.59 L613.72,233.35 L613.87,234.11 L614.03,234.87 L614.18,235.62 L614.33,236.38 L614.48,237.14 L614.63,237.90 L614.78,238.65 L614.93,239.41 L615.08,240.17 L615.23,240.93 L615.38,241.69 L615.52,242.45 L615.67,243.21 L615.81,243.97 L615.95,244.73 L616.10,245.49 L616.24,246.25 L616.38,247.01 L616.52,247.77 L616.66,248.53 L616.79,249.29 L616.93,250.05 L617.07,250.81 L617.20,251.57 L617.34,252.34 L617.47,253.10 L617.60,253.86 L617.73,254.62 L617.87,255.38 L618.00,256.15 L618.13,256.91 L618.25,257.67 L618.38,258.44 L618.51,259.20 L618.64,259.96 L618.76,260.73 L618.89,261.49 L619.01,262.25 L619.13,263.02 L619.26,263.78 L619.38,264.55 L619.50,265.31 L619.62,266.07 L619.74,266.84 L619.86,267.60 L619.98,268.37 L620.10,269.13 L620.21,269.90 L620.33,270.67 L620.45,271.43 L620.56,272.20 L620.68,272.96 L620.79,273.73 L620.91,274.49 L621.02,275.26 L621.13,276.03 L621.24,276.79 L621.36,277.56 L621.47,278.33 L621.58,279.09 L621.69,279.86 L621.80,280.63 L621.91,281.39 L622.02,282.16 L622.13,282.93 L622.23,283.70 L622.34,284.46 L622.45,285.23 L622.55,286.00 L622.66,286.77 L622.77,287.53 L622.87,288.30 L622.98,289.07 L623.08,289.84 L623.19,290.61 L623.29,291.37 L623.40,292.14 L623.50,292.91 L623.60,293.68 L623.71,294.45 L623.81,295.22 L623.91,295.98 L624.01,296.75 L624.11,297.52 L624.22,298.29 L624.32,299.06 L624.42,299.83 L624.52,300.60 L624.62,301.37 L624.72,302.13 L624.82,302.90 L624.92,303.67 L625.02,304.44 L625.12,305.21 L625.22,305.98 L625.32,306.75 L625.42,307.52 L625.52,308.29 L625.62,309.06 L625.72,309.83 L625.82,310.59 L625.92,311.36 L626.02,312.13 L626.11,312.90 L626.21,313.67 L626.31,314.44 L626.41,315.21 L626.51,315.98 L626.61,316.75 L626.71,317.52 L626.81,318.29 L626.91,319.06 L627.00,319.83 L627.10,320.60 L627.20,321.36 L627.30,322.13 L627.40,322.90 L627.50,323.67 L627.60,324.44 L627.70,325.21 L627.80,325.98 L627.90,326.75 L628.00,327.52 L628.10,328.29 L628.20,329.06 L628.30,329.82 L628.40,330.59 L628.50,331.36 L628.60,332.13 L628.70,332.90 L628.80,333.67 L628.90,334.44 L629.01,335.21 L629.11,335.97 L629.21,336.74 L629.31,337.51 L629.42,338.28 L629.52,339.05 L629.62,339.82 L629.73,340.58 L629.83,341.35 L629.94,342.12 L630.04,342.89 L630.15,343.66 L630.25,344.42 L630.36,345.19 L630.46,345.96 L630.57,346.73 L630.68,347.49 L630.78,348.26 L630.89,349.03 L631.00,349.80 L631.11,350.56 L631.22,351.33 L631.33,352.10 L631.44,352.86 L631.55,353.63 L631.66,354.40 L631.77,355.16 L631.88,355.93 L632.00,356.69 L632.11,357.46 L632.22,358.23 L632.34,358.99 L632.45,359.76 L632.57,360.52 L632.68,361.29 L632.80,362.05 L632.92,362.82 L633.04,363.58 L633.16,364.35 L633.27,365.11 L633.39,365.88 L633.51,366.64 L633.64,367.41 L633.76,368.17 L633.88,368.94 L634.00,369.70 L634.13,370.46 L634.25,371.23 L634.38,371.99 L634.50,372.75 L634.63,373.52 L634.76,374.28 L634.89,375.04 L635.02,375.80 L635.15,376.57 L635.28,377.33 L635.41,378.09 L635.54,378.85 L635.67,379.61 L635.81,380.38 L635.94,381.14 L636.08,381.90 L636.21,382.66 L636.35,383.42 L636.49,384.18 L636.63,384.94 L636.77,385.70 L636.91,386.46 L637.05,387.22 L637.20,387.98 L637.34,388.74 L637.49,389.50 L637.63,390.26 L637.78,391.01 L637.93,391.77 L638.08,392.53 L638.23,393.29 L638.38,394.05 L638.53,394.80 L638.68,395.56 L638.84,396.32 L638.99,397.08 L639.15,397.83 L639.30,398.59 L639.46,399.34 L639.62,400.10 L639.78,400.86 L639.94,401.61 L640.11,402.37 L640.27,403.12 L640.44,403.88 L640.60,404.63 L640.77,405.38 L640.94,406.14 L641.11,406.89 L641.28,407.65 L641.45,408.40 L641.63,409.15 L641.80,409.90 L641.98,410.66 L642.15,411.41 L642.33,412.16 L642.51,412.91 L642.69,413.66 L642.88,414.41 L643.06,415.16 L643.24,415.91 L643.43,416.66 L643.62,417.41 L643.81,418.16 L644.00,418.91 L644.19,419.66 L644.38,420.41 L644.58,421.16 L644.77,421.90" fill="none" stroke="#ff0000" stroke-width="4.6" stroke-linecap="round" stroke-linejoin="round"/>
<path d="M64.10,12.91 L64.10,494.27 L664.48,494.27" fill="none" stroke="#000" stroke-width="3.7" stroke-linejoin="round" stroke-linecap="round"/>
<path d="M64.10,494.27 H73.70 M64.10,464.19 H68.90 M64.10,434.10 H73.70 M64.10,404.02 H68.90 M64.10,373.93 H73.70 M64.10,343.85 H68.90 M64.10,313.76 H73.70 M64.10,283.68 H68.90 M64.10,253.59 H73.70 M64.10,223.51 H68.90 M64.10,193.42 H73.70 M64.10,163.33 H68.90 M64.10,133.25 H73.70 M64.10,103.17 H68.90 M64.10,73.08 H73.70 M64.10,43.00 H68.90 M64.10,12.91 H73.70 M64.10,494.27 V484.67 M124.14,494.27 V489.47 M184.18,494.27 V484.67 M244.21,494.27 V489.47 M304.25,494.27 V484.67 M364.29,494.27 V489.47 M424.33,494.27 V484.67 M484.36,494.27 V489.47 M544.40,494.27 V484.67 M604.44,494.27 V489.47 M664.48,494.27 V484.67" fill="none" stroke="#000" stroke-width="3.4" stroke-linecap="round"/>
<text x="57.9" y="504.27" text-anchor="end">-5</text><text x="58.3" y="444.10" text-anchor="end">0</text><text x="58.3" y="383.93" text-anchor="end">5</text><text x="62.0" y="323.76" text-anchor="end">10</text><text x="60.8" y="263.59" text-anchor="end">15</text><text x="61.3" y="203.42" text-anchor="end">20</text><text x="60.8" y="143.25" text-anchor="end">25</text><text x="61.3" y="83.08" text-anchor="end">30</text><text x="60.8" y="22.91" text-anchor="end">35</text>
<text x="63.50" y="526" text-anchor="middle">0</text><text x="183.58" y="526" text-anchor="middle">25</text><text x="303.65" y="526" text-anchor="middle">50</text><text x="423.73" y="526" text-anchor="middle">75</text><text x="545.00" y="526" text-anchor="middle">100</text><text x="665.27" y="526" text-anchor="middle">125</text>
<text x="199" y="557.5">Longitudinal position (m)</text>
<text transform="translate(21.5,377) rotate(-90)" style="font-size:31px">Displacement (mm)</text>
<rect x="84.7" y="8.2" width="540.7" height="30.5" fill="#fff" stroke="#000" stroke-width="1.7"/>
<path d="M92.9,24 L103.9,24 M117.4,24 L128.4,24 M142,24 L144,24" stroke="#2778b6" stroke-width="4.2" stroke-linecap="round"/>
<text x="155.2" y="35">Calculated result</text>
<path d="M395.6,22.5 L445.5,22.5" stroke="#ff0000" stroke-width="4.5" stroke-linecap="round"/>
<text x="453" y="35">Fitted result</text>
</svg>
</body></html>
